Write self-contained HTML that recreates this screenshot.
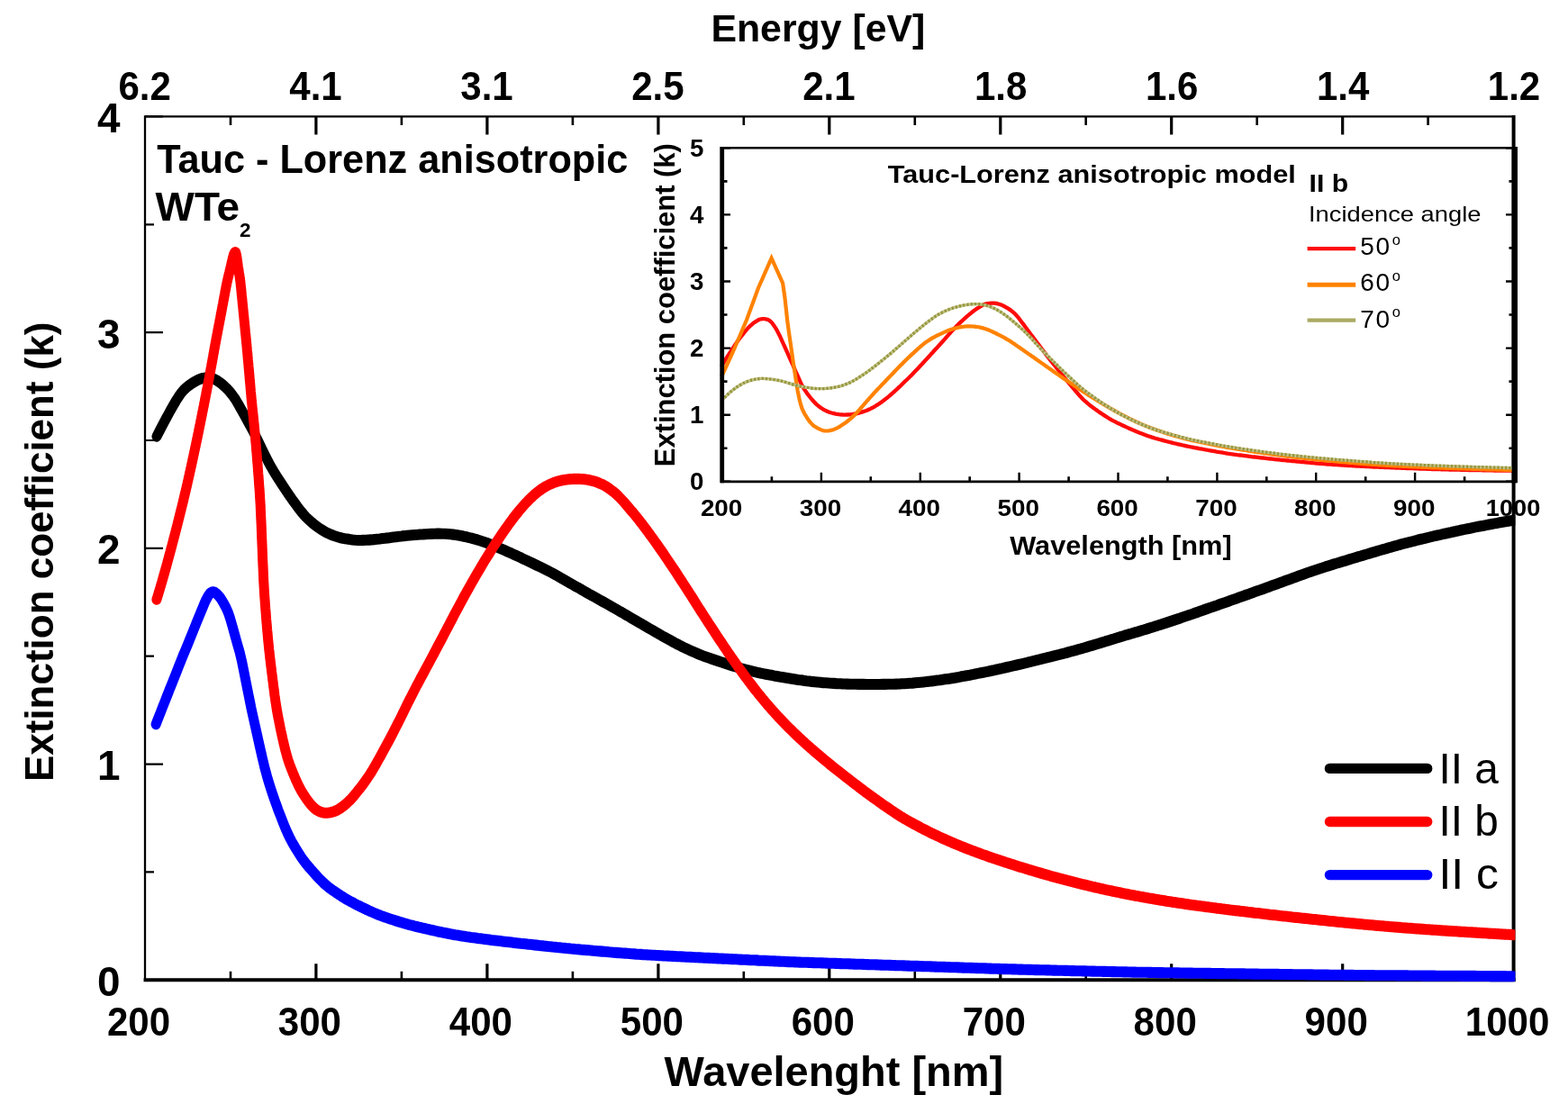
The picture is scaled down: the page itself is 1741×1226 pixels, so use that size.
<!DOCTYPE html>
<html lang="en"><head><meta charset="utf-8"><title>Extinction coefficient</title>
<style>html,body{margin:0;padding:0;background:#fff}svg{display:block}text{font-family:"Liberation Sans",Arial,sans-serif;fill:#000}.b{font-weight:bold}</style></head><body>
<svg width="1741" height="1226" viewBox="0 0 1741 1226">
<rect width="1741" height="1226" fill="#fff"/>
<path d="M350.9 1088.3 v-18 M350.9 129.4 v20 M540.9 1088.3 v-18 M540.9 129.4 v20 M730.9 1088.3 v-18 M730.9 129.4 v20 M920.8 1088.3 v-18 M920.8 129.4 v20 M1110.8 1088.3 v-18 M1110.8 129.4 v20 M1300.7 1088.3 v-18 M1300.7 129.4 v20 M1490.7 1088.3 v-18 M1490.7 129.4 v20" stroke="#000" stroke-width="3.2" fill="none"/>
<path d="M256.0 1088.3 v-9.5 M256.0 129.4 v9.5 M445.9 1088.3 v-9.5 M445.9 129.4 v9.5 M635.9 1088.3 v-9.5 M635.9 129.4 v9.5 M825.8 1088.3 v-9.5 M825.8 129.4 v9.5 M1015.8 1088.3 v-9.5 M1015.8 129.4 v9.5 M1205.7 1088.3 v-9.5 M1205.7 129.4 v9.5 M1395.7 1088.3 v-9.5 M1395.7 129.4 v9.5 M1585.6 1088.3 v-9.5 M1585.6 129.4 v9.5" stroke="#000" stroke-width="2.6" fill="none"/>
<path d="M161.0 1088.3 h20 M161.0 848.6 h20 M161.0 608.8 h20 M161.0 369.1 h20 M161.0 129.4 h20 M161.0 968.4 h10 M161.0 728.7 h10 M161.0 489.0 h10 M161.0 249.3 h10" stroke="#000" stroke-width="2.2" fill="none"/>
<path d="M161.0 129.4 H1680.6" stroke="#000" stroke-width="2.3" fill="none"/>
<path d="M161.0 128.3 V1090.1" stroke="#000" stroke-width="2.3" fill="none"/>
<path d="M159.6 1088.3 H1682.6" stroke="#000" stroke-width="4" fill="none"/>
<path d="M1680.6 128.1 V1090.1" stroke="#000" stroke-width="4" fill="none"/>
<clipPath id="mc"><rect x="150" y="100" width="1532.4" height="1000"/></clipPath>
<g clip-path="url(#mc)"><g transform="scale(1 1.1)" fill="none" stroke-width="11" stroke-linejoin="round" stroke-linecap="round">
<path d="M174.0 440.55 L177.0 435.18 L180.0 429.91 L183.1 424.73 L184.5 422.27 L186.1 419.64 L189.1 414.55 L192.1 409.73 L195.1 405.09 L198.2 400.73 L199.0 399.55 L201.2 396.73 L204.2 393.55 L207.2 391.00 L210.2 388.91 L213.2 387.00 L215.0 386.00 L216.3 385.27 L219.3 383.73 L222.3 382.55 L225.3 381.73 L228.3 381.27 L229.0 381.27 L231.4 381.27 L234.4 381.73 L237.4 382.64 L240.4 383.91 L243.4 385.64 L246.5 387.73 L246.7 387.91 L249.5 390.18 L252.5 392.82 L255.5 395.91 L258.5 399.45 L261.6 403.45 L263.3 406.09 L264.6 408.09 L267.6 412.91 L270.6 417.82 L273.6 422.82 L276.6 427.91 L279.7 433.00 L282.7 438.27 L283.3 439.36 L285.7 443.64 L288.7 449.27 L291.7 455.00 L294.8 460.55 L297.8 466.00 L300.0 469.73 L300.8 471.00 L303.8 475.73 L306.8 480.18 L309.9 484.55 L312.9 488.73 L315.9 492.82 L316.7 493.91 L318.9 496.91 L321.9 501.00 L325.0 504.91 L328.0 508.73 L331.0 512.45 L333.3 515.18 L334.0 516.00 L337.0 519.27 L340.0 522.27 L343.1 524.91 L346.1 527.36 L349.1 529.64 L350.0 530.27 L352.1 531.73 L355.1 533.64 L358.2 535.36 L361.2 537.00 L364.2 538.36 L366.7 539.36 L367.2 539.55 L370.2 540.64 L373.3 541.55 L376.3 542.45 L379.3 543.18 L382.3 543.73 L383.3 543.91 L385.3 544.18 L388.4 544.64 L391.4 545.00 L394.4 545.27 L397.4 545.45 L400.0 545.45 L400.4 545.45 L403.4 545.36 L406.5 545.27 L409.5 545.09 L412.5 544.91 L415.5 544.64 L416.7 544.55 L418.5 544.36 L421.6 544.09 L424.6 543.73 L427.6 543.36 L430.6 543.09 L433.6 542.73 L436.7 542.36 L439.7 542.00 L442.7 541.64 L445.7 541.36 L448.7 541.00 L450.0 540.91 L451.8 540.73 L454.8 540.45 L457.8 540.18 L460.8 540.00 L463.8 539.82 L466.8 539.55 L469.9 539.45 L472.9 539.27 L475.9 539.09 L478.9 539.00 L481.9 538.91 L483.3 538.82 L485.0 538.73 L488.0 538.73 L491.0 538.82 L494.0 538.91 L497.0 539.09 L500.1 539.36 L503.1 539.64 L506.1 540.00 L509.1 540.45 L512.1 540.91 L515.2 541.55 L516.7 541.82 L518.2 542.09 L521.2 542.82 L524.2 543.45 L527.2 544.27 L530.2 545.00 L533.3 545.91 L536.3 546.82 L539.3 547.73 L542.3 548.73 L545.3 549.82 L548.4 550.91 L550.0 551.55 L551.4 552.09 L554.4 553.27 L557.4 554.45 L560.4 555.64 L563.5 556.91 L566.5 558.09 L569.5 559.36 L572.5 560.55 L575.5 561.82 L578.6 563.09 L581.6 564.45 L583.3 565.18 L584.6 565.73 L587.6 567.09 L590.6 568.36 L593.6 569.64 L596.7 571.00 L599.7 572.27 L602.7 573.64 L605.7 575.00 L608.7 576.36 L611.8 577.82 L614.8 579.27 L616.7 580.27 L617.8 580.82 L620.8 582.36 L623.8 583.91 L626.9 585.55 L629.9 587.09 L632.9 588.64 L635.9 590.27 L638.9 591.82 L642.0 593.36 L645.0 594.91 L648.0 596.55 L650.0 597.55 L651.0 598.09 L654.0 599.64 L657.0 601.09 L660.1 602.64 L663.1 604.18 L666.1 605.73 L669.1 607.27 L672.1 608.82 L675.2 610.36 L678.2 611.91 L681.2 613.45 L683.3 614.55 L684.2 615.00 L687.2 616.64 L690.3 618.18 L693.3 619.82 L696.3 621.36 L699.3 623.00 L702.3 624.55 L705.4 626.18 L708.4 627.82 L711.4 629.36 L714.4 631.00 L716.0 631.82 L717.4 632.55 L720.4 634.18 L723.5 635.73 L726.5 637.36 L729.5 638.91 L732.5 640.55 L733.3 640.91 L735.5 642.09 L738.6 643.64 L741.6 645.18 L744.6 646.64 L747.6 648.18 L750.6 649.64 L753.7 651.00 L756.7 652.45 L759.7 653.82 L762.7 655.09 L765.7 656.45 L766.7 656.82 L768.8 657.64 L771.8 658.82 L774.8 660.00 L777.8 661.09 L780.8 662.18 L783.8 663.18 L786.9 664.18 L789.9 665.09 L792.9 666.00 L795.9 666.91 L798.9 667.82 L800.0 668.18 L802.0 668.73 L805.0 669.64 L808.0 670.55 L811.0 671.45 L814.0 672.36 L817.1 673.18 L820.1 674.00 L823.1 674.82 L826.1 675.55 L829.1 676.36 L832.2 677.00 L833.3 677.27 L835.2 677.64 L838.2 678.27 L841.2 678.91 L844.2 679.55 L847.2 680.09 L850.3 680.64 L853.3 681.18 L856.3 681.64 L859.3 682.18 L862.3 682.64 L865.4 683.18 L866.7 683.36 L868.4 683.64 L871.4 684.09 L874.4 684.55 L877.4 685.00 L880.5 685.45 L883.5 685.82 L886.5 686.27 L889.5 686.64 L892.5 687.09 L895.6 687.45 L898.6 687.73 L900.0 687.91 L901.6 688.09 L904.6 688.36 L907.6 688.64 L910.6 688.91 L913.7 689.18 L916.7 689.36 L919.7 689.55 L922.7 689.73 L925.7 689.91 L928.8 690.09 L931.8 690.18 L933.3 690.27 L934.8 690.36 L937.8 690.45 L940.8 690.55 L943.9 690.64 L946.9 690.64 L949.9 690.73 L952.9 690.82 L955.9 690.82 L958.9 690.82 L962.0 690.91 L965.0 690.91 L966.7 690.91 L968.0 690.91 L971.0 690.91 L974.0 690.91 L977.1 690.91 L980.1 690.82 L983.1 690.82 L986.1 690.73 L989.1 690.73 L992.2 690.64 L995.2 690.55 L998.2 690.45 L1000.0 690.36 L1001.2 690.27 L1004.2 690.18 L1007.3 690.00 L1010.3 689.82 L1013.3 689.64 L1016.3 689.36 L1019.3 689.09 L1022.3 688.82 L1025.4 688.55 L1028.4 688.27 L1031.4 687.91 L1033.3 687.73 L1034.4 687.64 L1037.4 687.27 L1040.5 686.91 L1043.5 686.55 L1046.5 686.09 L1049.5 685.73 L1052.5 685.36 L1055.6 684.91 L1058.6 684.45 L1061.6 684.00 L1064.6 683.55 L1066.7 683.18 L1067.6 683.00 L1070.7 682.55 L1073.7 682.00 L1076.7 681.55 L1079.7 681.00 L1082.7 680.45 L1085.7 679.91 L1088.8 679.36 L1091.8 678.82 L1094.8 678.27 L1097.8 677.73 L1100.0 677.27 L1100.8 677.09 L1103.9 676.55 L1106.9 675.91 L1109.9 675.27 L1112.9 674.73 L1115.9 674.09 L1119.0 673.45 L1122.0 672.82 L1125.0 672.18 L1128.0 671.55 L1131.0 670.91 L1133.3 670.45 L1134.1 670.27 L1137.1 669.64 L1140.1 669.00 L1143.1 668.27 L1146.1 667.64 L1149.1 667.00 L1152.2 666.27 L1155.2 665.64 L1158.2 664.91 L1161.2 664.27 L1164.2 663.55 L1166.7 663.00 L1167.3 662.91 L1170.3 662.18 L1173.3 661.45 L1176.3 660.82 L1179.3 660.09 L1182.4 659.36 L1185.4 658.64 L1188.4 657.91 L1191.4 657.18 L1194.4 656.45 L1197.5 655.64 L1200.0 655.00 L1200.5 654.91 L1203.5 654.09 L1206.5 653.27 L1209.5 652.45 L1212.5 651.64 L1215.6 650.82 L1218.6 650.00 L1221.6 649.18 L1224.6 648.36 L1227.6 647.45 L1230.7 646.64 L1233.3 645.91 L1233.7 645.82 L1236.7 645.00 L1239.7 644.09 L1242.7 643.27 L1245.8 642.45 L1248.8 641.55 L1251.8 640.73 L1254.8 640.00 L1257.8 639.18 L1260.9 638.36 L1262.2 638.00 L1263.9 637.55 L1266.9 636.73 L1269.9 635.91 L1272.9 635.09 L1275.9 634.18 L1279.0 633.36 L1282.0 632.45 L1285.0 631.64 L1288.0 630.73 L1291.0 629.91 L1294.1 629.00 L1297.1 628.09 L1300.1 627.18 L1303.1 626.27 L1306.1 625.36 L1309.2 624.45 L1312.2 623.45 L1315.2 622.55 L1318.2 621.64 L1321.2 620.64 L1324.3 619.73 L1324.3 619.73 L1327.3 618.73 L1330.3 617.82 L1333.3 616.82 L1336.3 615.82 L1339.3 614.91 L1342.4 613.91 L1345.4 613.00 L1348.4 612.00 L1351.4 611.09 L1354.4 610.09 L1357.5 609.09 L1360.5 608.18 L1363.5 607.18 L1366.5 606.18 L1369.5 605.27 L1372.6 604.27 L1375.6 603.27 L1378.6 602.27 L1381.6 601.27 L1384.6 600.36 L1386.5 599.73 L1387.7 599.36 L1390.7 598.36 L1393.7 597.36 L1396.7 596.36 L1399.7 595.45 L1402.7 594.45 L1405.8 593.45 L1408.8 592.45 L1411.8 591.45 L1414.8 590.45 L1417.8 589.45 L1420.9 588.45 L1423.9 587.45 L1426.9 586.45 L1429.9 585.45 L1432.9 584.45 L1436.0 583.45 L1439.0 582.45 L1442.0 581.45 L1445.0 580.45 L1448.0 579.45 L1448.6 579.27 L1451.1 578.45 L1454.1 577.55 L1457.1 576.55 L1460.1 575.64 L1463.1 574.73 L1466.1 573.82 L1469.2 572.91 L1472.2 572.00 L1475.2 571.18 L1478.2 570.36 L1481.2 569.45 L1484.3 568.64 L1487.3 567.82 L1490.3 567.00 L1493.3 566.18 L1496.3 565.36 L1499.4 564.45 L1502.4 563.64 L1505.4 562.82 L1508.4 562.00 L1510.8 561.36 L1511.4 561.18 L1514.5 560.36 L1517.5 559.55 L1520.5 558.73 L1523.5 557.91 L1526.5 557.09 L1529.5 556.27 L1532.6 555.45 L1535.6 554.64 L1538.6 553.91 L1541.6 553.09 L1544.6 552.36 L1547.7 551.55 L1550.7 550.82 L1553.7 550.00 L1556.7 549.27 L1559.7 548.55 L1562.8 547.82 L1565.8 547.09 L1568.8 546.45 L1571.8 545.73 L1572.9 545.45 L1574.8 545.00 L1577.9 544.36 L1580.9 543.73 L1583.9 543.00 L1586.9 542.36 L1589.9 541.73 L1592.9 541.09 L1596.0 540.45 L1599.0 539.91 L1602.0 539.27 L1605.0 538.64 L1608.0 538.00 L1611.1 537.45 L1614.1 536.82 L1617.1 536.18 L1620.1 535.64 L1623.1 535.00 L1626.2 534.45 L1629.2 533.91 L1632.2 533.36 L1635.1 532.82 L1635.2 532.73 L1638.2 532.18 L1641.3 531.64 L1644.3 531.09 L1647.3 530.64 L1650.3 530.09 L1653.3 529.55 L1656.3 529.09 L1659.4 528.55 L1662.4 528.09 L1665.4 527.55 L1668.4 527.09 L1671.4 526.64 L1674.5 526.18 L1677.5 525.73 L1680.5 525.27" stroke="#000"/>
<path d="M173.9 605.27 L174.2 604.27 L174.6 603.27 L174.9 602.27 L175.2 601.27 L175.6 600.27 L175.9 599.27 L176.2 598.27 L176.6 597.27 L176.9 596.27 L177.2 595.27 L177.6 594.18 L177.9 593.18 L178.2 592.18 L178.6 591.18 L178.9 590.09 L179.2 589.09 L179.6 588.00 L179.9 587.00 L180.2 585.91 L180.6 584.91 L180.9 583.82 L181.2 582.82 L181.6 581.73 L181.9 580.64 L182.2 579.64 L182.6 578.55 L182.9 577.45 L183.2 576.36 L183.6 575.27 L183.9 574.18 L184.2 573.18 L184.6 572.09 L184.9 571.00 L185.2 569.91 L185.6 568.73 L185.9 567.64 L186.2 566.55 L186.5 565.45 L186.9 564.36 L187.2 563.27 L187.5 562.09 L187.9 561.00 L188.2 559.91 L188.5 558.82 L188.9 557.64 L189.2 556.55 L189.5 555.36 L189.9 554.27 L190.2 553.09 L190.5 552.00 L190.9 550.82 L191.2 549.73 L191.5 548.55 L191.9 547.36 L192.2 546.27 L192.5 545.09 L192.9 543.91 L193.2 542.82 L193.3 542.45 L193.5 541.64 L193.9 540.45 L194.2 539.27 L194.5 538.09 L194.9 536.91 L195.2 535.73 L195.5 534.64 L195.9 533.45 L196.2 532.27 L196.5 531.09 L196.9 529.82 L197.2 528.64 L197.5 527.45 L197.9 526.27 L198.2 525.09 L198.5 523.91 L198.9 522.64 L199.2 521.45 L199.5 520.27 L199.9 519.00 L200.2 517.82 L200.5 516.64 L200.9 515.36 L201.2 514.18 L201.5 512.91 L201.9 511.64 L202.2 510.45 L202.5 509.18 L202.9 507.91 L203.2 506.73 L203.5 505.45 L203.9 504.18 L204.2 502.91 L204.5 501.64 L204.9 500.36 L205.2 499.09 L205.5 497.82 L205.9 496.55 L206.2 495.27 L206.5 494.00 L206.9 492.64 L207.2 491.36 L207.5 490.09 L207.9 488.73 L208.2 487.45 L208.5 486.09 L208.9 484.82 L209.2 483.45 L209.5 482.18 L209.8 480.82 L210.2 479.45 L210.5 478.09 L210.8 476.73 L211.2 475.36 L211.5 474.00 L211.8 472.64 L212.2 471.27 L212.5 469.91 L212.8 468.55 L213.2 467.18 L213.3 466.64 L213.5 465.73 L213.8 464.36 L214.2 462.91 L214.5 461.55 L214.8 460.09 L215.2 458.73 L215.5 457.27 L215.8 455.91 L216.2 454.45 L216.5 453.00 L216.8 451.64 L217.2 450.18 L217.5 448.73 L217.8 447.27 L218.2 445.82 L218.5 444.36 L218.8 442.91 L219.2 441.45 L219.5 440.00 L219.8 438.55 L220.2 437.09 L220.5 435.64 L220.8 434.09 L221.2 432.64 L221.5 431.18 L221.8 429.64 L222.2 428.18 L222.5 426.64 L222.8 425.18 L223.2 423.64 L223.5 422.18 L223.8 420.64 L224.2 419.18 L224.5 417.64 L224.8 416.09 L225.2 414.55 L225.5 413.09 L225.8 411.55 L226.2 410.00 L226.5 408.45 L226.8 406.91 L227.2 405.36 L227.5 403.82 L227.8 402.27 L228.2 400.64 L228.3 400.00 L228.5 399.09 L228.8 397.55 L229.2 396.00 L229.5 394.36 L229.8 392.82 L230.2 391.27 L230.5 389.64 L230.8 388.09 L231.2 386.55 L231.5 384.91 L231.8 383.36 L232.2 381.73 L232.5 380.09 L232.8 378.55 L233.2 376.91 L233.5 375.27 L233.8 373.64 L234.1 372.00 L234.5 370.36 L234.6 369.82 L234.8 368.73 L235.1 367.09 L235.5 365.45 L235.8 363.73 L236.1 362.09 L236.5 360.36 L236.8 358.64 L237.1 357.00 L237.5 355.27 L237.8 353.64 L238.1 351.91 L238.5 350.18 L238.8 348.55 L239.1 346.91 L239.5 345.27 L239.8 343.64 L239.9 343.18 L240.1 342.00 L240.5 340.45 L240.8 338.82 L241.1 337.18 L241.5 335.64 L241.8 334.00 L242.1 332.45 L242.5 330.91 L242.8 329.27 L243.1 327.73 L243.5 326.09 L243.8 324.55 L244.1 323.00 L244.5 321.36 L244.8 319.82 L245.1 318.18 L245.5 316.64 L245.5 316.45 L245.8 315.00 L246.1 313.45 L246.5 311.82 L246.8 310.18 L247.1 308.55 L247.5 306.91 L247.8 305.27 L248.1 303.64 L248.5 302.09 L248.8 300.45 L249.1 298.82 L249.5 297.18 L249.8 295.55 L250.1 293.91 L250.5 292.36 L250.8 290.73 L251.0 289.73 L251.1 289.09 L251.5 287.64 L251.8 286.09 L252.1 284.73 L252.5 283.36 L252.8 282.00 L253.1 280.73 L253.5 279.45 L253.8 278.18 L254.1 277.00 L254.5 275.73 L254.8 274.55 L255.1 273.27 L255.5 272.09 L255.8 270.82 L256.0 270.00 L256.1 269.55 L256.5 268.27 L256.8 266.91 L257.1 265.55 L257.4 264.27 L257.8 262.91 L258.1 261.64 L258.4 260.45 L258.8 259.36 L259.1 258.27 L259.4 257.27 L259.8 256.45 L260.1 255.73 L260.4 255.18 L260.8 254.82 L261.1 254.55 L261.3 254.55 L261.4 254.64 L261.8 255.09 L262.1 256.09 L262.4 257.45 L262.8 259.09 L263.1 261.00 L263.4 263.09 L263.8 265.27 L264.1 267.45 L264.4 269.64 L264.5 270.00 L264.8 271.64 L265.1 273.55 L265.4 275.45 L265.8 277.36 L266.1 279.36 L266.4 281.45 L266.8 283.73 L267.1 286.27 L267.4 289.18 L267.5 289.73 L267.8 292.18 L268.1 295.27 L268.4 298.36 L268.8 301.36 L269.1 304.45 L269.4 307.55 L269.8 310.64 L270.1 313.64 L270.4 316.45 L270.4 316.73 L270.8 319.82 L271.1 322.91 L271.4 325.91 L271.8 329.00 L272.1 332.09 L272.4 335.18 L272.8 338.18 L273.1 341.27 L273.3 343.18 L273.4 344.36 L273.8 347.55 L274.1 350.73 L274.4 354.00 L274.8 357.27 L275.1 360.64 L275.4 364.00 L275.8 367.36 L276.0 369.82 L276.1 370.73 L276.4 374.09 L276.8 377.55 L277.1 381.09 L277.4 384.55 L277.8 388.09 L278.1 391.64 L278.4 395.09 L278.8 398.55 L278.9 400.00 L279.1 401.82 L279.4 405.00 L279.8 408.00 L280.1 410.91 L280.4 413.73 L280.7 416.55 L281.1 419.27 L281.4 422.09 L281.7 425.00 L282.0 427.27 L282.1 428.00 L282.4 431.09 L282.7 434.27 L283.1 437.55 L283.4 440.91 L283.7 444.27 L284.1 447.73 L284.4 451.27 L284.7 454.91 L285.1 458.55 L285.4 462.27 L285.7 466.00 L286.1 469.91 L286.4 473.82 L286.7 477.73 L287.1 481.73 L287.4 485.82 L287.7 489.91 L288.1 494.09 L288.3 497.00 L288.4 498.36 L288.7 503.27 L289.1 508.82 L289.4 515.00 L289.7 521.64 L290.1 528.64 L290.4 536.00 L290.7 543.45 L291.1 551.00 L291.4 558.55 L291.7 566.00 L292.1 573.09 L292.4 579.91 L292.7 586.27 L293.1 592.09 L293.4 597.27 L293.6 600.00 L293.7 601.73 L294.1 605.91 L294.4 610.09 L294.7 614.09 L295.1 618.09 L295.4 621.91 L295.7 625.73 L296.1 629.36 L296.4 633.00 L296.7 636.45 L297.1 639.82 L297.4 643.18 L297.7 646.36 L298.1 649.55 L298.4 652.55 L298.7 655.45 L299.1 658.36 L299.4 661.09 L299.7 663.73 L300.1 666.36 L300.3 668.18 L300.4 668.82 L300.7 671.27 L301.1 673.82 L301.4 676.27 L301.7 678.73 L302.1 681.18 L302.4 683.64 L302.7 686.09 L303.1 688.45 L303.4 690.82 L303.7 693.18 L304.1 695.55 L304.4 697.82 L304.7 700.09 L305.0 702.36 L305.4 704.55 L305.7 706.64 L306.0 708.73 L306.4 710.82 L306.7 712.73 L307.0 714.64 L307.4 716.55 L307.7 718.27 L308.0 720.00 L308.4 721.64 L308.6 722.73 L308.7 723.27 L309.0 724.82 L309.4 726.36 L309.7 727.82 L310.0 729.36 L310.4 730.91 L310.7 732.36 L311.0 733.82 L311.4 735.36 L311.7 736.82 L312.0 738.27 L312.4 739.64 L312.7 741.09 L313.0 742.45 L313.4 743.91 L313.7 745.27 L314.0 746.64 L314.4 747.91 L314.7 749.27 L315.0 750.55 L315.4 751.82 L315.7 753.09 L316.0 754.36 L316.4 755.55 L316.7 756.82 L317.0 758.00 L317.4 759.09 L317.7 760.27 L318.0 761.36 L318.4 762.45 L318.7 763.55 L319.0 764.64 L319.4 765.64 L319.7 766.64 L320.0 767.55 L320.4 768.55 L320.7 769.45 L321.0 770.27 L321.4 771.18 L321.7 772.00 L322.0 772.73 L322.0 772.82 L322.4 773.55 L322.7 774.36 L323.0 775.09 L323.4 775.91 L323.7 776.64 L324.0 777.45 L324.4 778.18 L324.7 778.91 L325.0 779.73 L325.4 780.45 L325.7 781.18 L326.0 781.91 L326.4 782.64 L326.7 783.36 L327.0 784.09 L327.4 784.82 L327.7 785.45 L328.0 786.18 L328.3 786.91 L328.7 787.55 L329.0 788.27 L329.3 788.91 L329.7 789.55 L330.0 790.27 L330.3 790.91 L330.7 791.55 L331.0 792.18 L331.3 792.82 L331.7 793.36 L332.0 794.00 L332.3 794.64 L332.7 795.18 L333.0 795.73 L333.3 796.36 L333.7 796.91 L334.0 797.45 L334.3 798.00 L334.7 798.55 L335.0 799.09 L335.3 799.55 L335.7 800.09 L336.0 800.55 L336.3 801.00 L336.7 801.55 L336.7 801.55 L337.0 802.00 L337.3 802.45 L337.7 802.91 L338.0 803.36 L338.3 803.82 L338.7 804.27 L339.0 804.73 L339.3 805.18 L339.7 805.64 L340.0 806.09 L341.9 808.55 L343.8 810.82 L345.8 812.91 L347.7 814.82 L349.6 816.36 L350.0 816.64 L351.5 817.64 L353.4 818.64 L355.3 819.45 L357.3 820.09 L359.2 820.45 L361.1 820.64 L361.7 820.64 L363.0 820.64 L364.9 820.45 L366.8 820.18 L368.8 819.82 L370.7 819.27 L372.6 818.64 L374.5 817.82 L376.4 816.82 L376.7 816.64 L378.4 815.64 L380.3 814.36 L382.2 813.09 L384.1 811.64 L386.0 810.00 L387.9 808.36 L389.9 806.55 L391.8 804.64 L393.3 803.00 L393.7 802.55 L395.6 800.45 L397.5 798.27 L399.4 796.09 L401.4 793.82 L403.3 791.45 L405.2 789.09 L407.1 786.64 L409.0 784.09 L411.0 781.36 L412.9 778.64 L414.8 775.73 L416.7 772.73 L416.7 772.73 L418.6 769.64 L420.5 766.55 L422.5 763.36 L424.4 760.18 L426.3 757.00 L428.2 753.82 L430.1 750.55 L432.1 747.27 L434.0 744.00 L435.9 740.64 L437.8 737.27 L439.7 733.82 L440.0 733.36 L441.6 730.45 L443.6 726.91 L445.5 723.45 L447.4 719.91 L449.3 716.36 L451.2 712.82 L453.1 709.27 L455.1 705.82 L457.0 702.36 L458.9 698.91 L460.8 695.55 L462.7 692.18 L464.7 688.91 L466.6 685.64 L466.7 685.36 L468.5 682.36 L470.4 679.18 L472.3 675.91 L474.2 672.73 L476.2 669.45 L478.1 666.18 L480.0 662.91 L481.9 659.64 L483.8 656.36 L485.7 653.09 L487.7 649.73 L489.6 646.45 L491.5 643.09 L493.4 639.73 L495.0 637.00 L495.3 636.45 L497.3 633.09 L499.2 629.73 L501.1 626.45 L503.0 623.09 L504.9 619.82 L506.8 616.55 L508.8 613.27 L510.7 610.00 L512.6 606.82 L514.5 603.55 L516.4 600.36 L516.7 600.00 L518.3 597.27 L520.3 594.09 L522.2 591.00 L524.1 587.91 L526.0 584.91 L527.9 581.82 L529.9 578.82 L531.8 575.91 L533.7 572.91 L535.6 570.00 L537.5 567.09 L539.4 564.27 L541.4 561.45 L543.3 558.64 L545.2 555.82 L547.1 553.09 L549.0 550.36 L551.0 547.73 L552.9 545.09 L554.8 542.45 L556.7 539.91 L558.6 537.36 L560.5 534.82 L562.5 532.36 L564.4 529.91 L566.3 527.55 L568.2 525.18 L570.1 522.82 L572.0 520.55 L574.0 518.36 L575.9 516.18 L577.8 514.09 L579.7 512.09 L581.6 510.09 L583.6 508.18 L585.5 506.27 L587.4 504.55 L589.3 502.82 L591.2 501.18 L593.1 499.55 L595.1 498.09 L597.0 496.64 L598.9 495.27 L600.8 494.09 L602.7 492.91 L604.6 491.82 L606.6 490.82 L608.5 489.91 L610.4 489.00 L612.3 488.27 L614.2 487.55 L616.2 486.91 L618.1 486.27 L620.0 485.82 L621.9 485.36 L623.8 484.91 L625.7 484.64 L627.7 484.27 L629.6 484.09 L631.5 483.91 L633.4 483.73 L635.3 483.64 L637.2 483.55 L639.2 483.55 L641.1 483.55 L643.0 483.55 L644.9 483.64 L646.8 483.73 L648.8 483.91 L650.7 484.18 L652.6 484.36 L654.5 484.73 L656.4 485.09 L658.3 485.55 L660.3 486.00 L662.2 486.64 L664.1 487.27 L666.0 488.00 L667.9 488.73 L669.9 489.64 L671.8 490.55 L673.7 491.64 L675.6 492.73 L677.5 493.91 L679.4 495.27 L681.4 496.64 L683.3 498.09 L685.2 499.73 L687.1 501.36 L689.0 503.18 L690.9 505.00 L692.9 506.91 L694.8 508.91 L696.7 511.00 L698.6 513.09 L700.5 515.18 L702.5 517.18 L704.4 519.27 L706.3 521.36 L708.2 523.55 L710.1 525.73 L712.0 528.00 L714.0 530.27 L715.9 532.55 L717.8 534.91 L719.7 537.27 L721.6 539.64 L723.5 542.00 L725.5 544.45 L727.4 546.91 L729.3 549.36 L731.2 551.82 L733.1 554.36 L735.1 556.91 L737.0 559.36 L738.9 562.00 L740.8 564.55 L742.7 567.09 L744.6 569.73 L746.6 572.36 L748.5 574.91 L750.4 577.55 L752.3 580.27 L754.2 582.91 L756.1 585.55 L758.1 588.27 L760.0 591.00 L761.9 593.64 L763.8 596.36 L765.7 599.09 L767.7 601.82 L769.6 604.55 L771.5 607.36 L773.4 610.09 L775.3 612.82 L777.2 615.55 L779.2 618.27 L781.1 621.00 L783.0 623.73 L784.9 626.36 L786.8 629.09 L788.8 631.82 L790.7 634.45 L792.6 637.09 L794.5 639.82 L796.4 642.45 L798.3 645.09 L800.3 647.64 L802.2 650.27 L804.1 652.91 L806.0 655.45 L807.9 658.00 L809.8 660.55 L811.8 663.09 L813.7 665.55 L815.6 668.09 L817.5 670.55 L819.4 673.00 L821.4 675.45 L823.3 677.82 L825.2 680.27 L827.1 682.64 L829.0 684.91 L830.9 687.27 L832.9 689.55 L834.8 691.82 L836.7 694.09 L838.6 696.36 L840.5 698.55 L842.4 700.73 L844.4 702.91 L846.3 705.00 L848.2 707.18 L850.1 709.18 L852.0 711.27 L854.0 713.27 L855.9 715.27 L857.8 717.27 L859.7 719.18 L861.6 721.09 L863.5 723.00 L865.5 724.91 L867.4 726.73 L869.3 728.55 L871.2 730.36 L873.1 732.18 L875.0 733.91 L877.0 735.64 L878.9 737.36 L880.8 739.09 L882.7 740.73 L884.6 742.45 L886.6 744.09 L888.5 745.73 L890.4 747.27 L892.3 748.91 L894.2 750.45 L896.1 752.09 L898.1 753.64 L900.0 755.18 L901.9 756.64 L903.8 758.18 L905.7 759.73 L907.7 761.18 L909.6 762.64 L911.5 764.09 L913.4 765.55 L915.3 767.00 L917.2 768.45 L919.2 769.91 L921.1 771.36 L923.0 772.73 L924.9 774.18 L926.8 775.55 L928.7 776.91 L930.7 778.36 L932.6 779.73 L934.5 781.09 L936.4 782.45 L938.3 783.82 L940.3 785.18 L942.2 786.55 L944.1 787.91 L946.0 789.27 L947.9 790.55 L949.8 791.91 L951.8 793.27 L953.7 794.55 L955.6 795.91 L957.5 797.18 L959.4 798.45 L961.3 799.82 L963.3 801.09 L965.2 802.36 L967.1 803.64 L969.0 804.91 L970.9 806.18 L972.9 807.36 L974.8 808.64 L976.7 809.91 L978.6 811.09 L980.5 812.36 L982.4 813.55 L984.4 814.73 L986.3 815.91 L988.2 817.09 L990.1 818.27 L992.0 819.45 L993.9 820.64 L995.9 821.82 L997.8 822.91 L999.7 824.09 L1001.6 825.09 L1003.5 826.18 L1005.5 827.18 L1007.4 828.18 L1009.3 829.18 L1011.2 830.09 L1013.1 831.09 L1015.0 832.09 L1017.0 833.00 L1018.9 833.91 L1020.8 834.82 L1022.7 835.82 L1024.6 836.73 L1026.6 837.55 L1028.5 838.45 L1030.4 839.36 L1032.3 840.18 L1034.2 841.09 L1036.1 841.91 L1038.1 842.73 L1040.0 843.55 L1041.9 844.36 L1043.8 845.18 L1045.7 846.00 L1047.6 846.82 L1049.6 847.55 L1051.5 848.36 L1053.4 849.09 L1055.3 849.82 L1057.2 850.64 L1059.2 851.36 L1061.1 852.09 L1063.0 852.82 L1064.9 853.55 L1066.8 854.27 L1068.7 854.91 L1070.7 855.64 L1072.6 856.36 L1074.5 857.00 L1076.4 857.64 L1078.3 858.36 L1080.2 859.00 L1082.2 859.64 L1084.1 860.36 L1086.0 861.00 L1087.9 861.64 L1089.8 862.27 L1091.8 862.91 L1093.7 863.45 L1095.6 864.09 L1097.5 864.73 L1099.4 865.36 L1101.3 865.91 L1103.3 866.55 L1105.2 867.09 L1107.1 867.73 L1109.0 868.27 L1110.9 868.91 L1112.8 869.45 L1114.8 870.00 L1116.7 870.64 L1118.6 871.18 L1120.5 871.73 L1122.4 872.27 L1124.4 872.82 L1126.3 873.45 L1128.2 874.00 L1130.1 874.55 L1132.0 875.09 L1133.9 875.64 L1135.9 876.09 L1137.8 876.64 L1139.7 877.18 L1141.6 877.73 L1143.5 878.27 L1145.5 878.82 L1147.4 879.27 L1149.3 879.82 L1151.2 880.36 L1153.1 880.82 L1155.0 881.36 L1157.0 881.82 L1158.9 882.36 L1160.8 882.82 L1162.7 883.36 L1164.6 883.82 L1166.5 884.36 L1168.5 884.82 L1170.4 885.27 L1172.3 885.73 L1174.2 886.27 L1176.1 886.73 L1178.1 887.18 L1180.0 887.64 L1181.9 888.09 L1183.8 888.55 L1185.7 889.00 L1187.6 889.45 L1189.6 889.91 L1191.5 890.36 L1193.4 890.82 L1195.3 891.27 L1197.2 891.73 L1199.1 892.09 L1201.1 892.55 L1203.0 893.00 L1204.9 893.36 L1206.8 893.82 L1208.7 894.27 L1210.7 894.64 L1212.6 895.09 L1214.5 895.45 L1216.4 895.91 L1218.3 896.27 L1220.2 896.64 L1222.2 897.09 L1224.1 897.45 L1226.0 897.82 L1227.9 898.27 L1229.8 898.64 L1231.7 899.00 L1233.7 899.36 L1235.6 899.73 L1237.5 900.09 L1239.4 900.45 L1241.3 900.82 L1243.3 901.18 L1245.2 901.55 L1247.1 901.91 L1249.0 902.27 L1250.9 902.55 L1252.8 902.91 L1254.8 903.27 L1256.7 903.64 L1258.6 903.91 L1260.5 904.27 L1262.4 904.55 L1264.4 904.91 L1266.3 905.27 L1268.2 905.55 L1270.1 905.82 L1272.0 906.18 L1273.9 906.45 L1275.9 906.82 L1277.8 907.09 L1279.7 907.36 L1281.6 907.64 L1283.5 908.00 L1285.4 908.27 L1287.4 908.55 L1289.3 908.82 L1291.2 909.09 L1293.1 909.36 L1295.0 909.73 L1297.0 910.00 L1298.9 910.27 L1300.8 910.55 L1302.7 910.82 L1304.6 911.00 L1306.5 911.27 L1308.5 911.55 L1310.4 911.82 L1312.3 912.09 L1314.2 912.36 L1316.1 912.64 L1318.0 912.82 L1320.0 913.09 L1321.9 913.36 L1323.8 913.64 L1325.7 913.82 L1327.6 914.09 L1329.6 914.36 L1331.5 914.55 L1333.4 914.82 L1335.3 915.00 L1337.2 915.27 L1339.1 915.55 L1341.1 915.73 L1343.0 916.00 L1344.9 916.18 L1346.8 916.45 L1348.7 916.64 L1350.6 916.91 L1352.6 917.09 L1354.5 917.27 L1356.4 917.55 L1358.3 917.73 L1360.2 918.00 L1362.2 918.18 L1364.1 918.36 L1366.0 918.64 L1367.9 918.82 L1369.8 919.00 L1371.7 919.27 L1373.7 919.45 L1375.6 919.64 L1377.5 919.91 L1379.4 920.09 L1381.3 920.27 L1383.3 920.45 L1385.2 920.73 L1387.1 920.91 L1389.0 921.09 L1390.9 921.27 L1392.8 921.55 L1394.8 921.73 L1396.7 921.91 L1398.6 922.09 L1400.5 922.36 L1402.4 922.55 L1404.3 922.73 L1406.3 922.91 L1408.2 923.09 L1410.1 923.36 L1412.0 923.55 L1413.9 923.73 L1415.9 923.91 L1417.8 924.09 L1419.7 924.27 L1421.6 924.55 L1423.5 924.73 L1425.4 924.91 L1427.4 925.09 L1429.3 925.27 L1431.2 925.45 L1433.1 925.64 L1435.0 925.91 L1436.9 926.09 L1438.9 926.27 L1440.8 926.45 L1442.7 926.64 L1444.6 926.82 L1446.5 927.00 L1448.5 927.18 L1450.4 927.36 L1452.3 927.55 L1454.2 927.73 L1456.1 927.91 L1458.0 928.09 L1460.0 928.27 L1461.9 928.45 L1463.8 928.64 L1465.7 928.91 L1467.6 929.00 L1469.5 929.18 L1471.5 929.36 L1473.4 929.55 L1475.3 929.73 L1477.2 929.91 L1479.1 930.09 L1481.1 930.27 L1483.0 930.45 L1484.9 930.64 L1486.8 930.82 L1488.7 931.00 L1490.6 931.18 L1492.6 931.36 L1494.5 931.55 L1496.4 931.64 L1498.3 931.82 L1500.2 932.00 L1502.2 932.18 L1504.1 932.36 L1506.0 932.55 L1507.9 932.64 L1509.8 932.82 L1511.7 933.00 L1513.7 933.18 L1515.6 933.36 L1517.5 933.45 L1519.4 933.64 L1521.3 933.82 L1523.2 933.91 L1525.2 934.09 L1527.1 934.27 L1529.0 934.45 L1530.9 934.55 L1532.8 934.73 L1534.8 934.82 L1536.7 935.00 L1538.6 935.18 L1540.5 935.27 L1542.4 935.45 L1544.3 935.64 L1546.3 935.73 L1548.2 935.91 L1550.1 936.00 L1552.0 936.18 L1553.9 936.27 L1555.8 936.45 L1557.8 936.55 L1559.7 936.73 L1561.6 936.82 L1563.5 937.00 L1565.4 937.09 L1567.4 937.18 L1569.3 937.36 L1571.2 937.45 L1573.1 937.64 L1575.0 937.73 L1576.9 937.82 L1578.9 938.00 L1580.8 938.09 L1582.7 938.27 L1584.6 938.36 L1586.5 938.45 L1588.4 938.64 L1590.4 938.73 L1592.3 938.82 L1594.2 938.91 L1596.1 939.09 L1598.0 939.18 L1600.0 939.27 L1601.9 939.45 L1603.8 939.55 L1605.7 939.64 L1607.6 939.73 L1609.5 939.91 L1611.5 940.00 L1613.4 940.09 L1615.3 940.18 L1617.2 940.27 L1619.1 940.45 L1621.1 940.55 L1623.0 940.64 L1624.9 940.73 L1626.8 940.82 L1628.7 941.00 L1630.6 941.09 L1632.6 941.18 L1634.5 941.27 L1636.4 941.36 L1638.3 941.45 L1640.2 941.64 L1642.1 941.73 L1644.1 941.82 L1646.0 941.91 L1647.9 942.00 L1649.8 942.09 L1651.7 942.27 L1653.7 942.36 L1655.6 942.45 L1657.5 942.55 L1659.4 942.64 L1661.3 942.73 L1663.2 942.82 L1665.2 942.91 L1667.1 943.09 L1669.0 943.18 L1670.9 943.27 L1672.8 943.36 L1674.7 943.45 L1676.7 943.55 L1678.6 943.64 L1680.5 943.82" stroke="#f00"/>
<path d="M173.1 731.18 L175.6 725.36 L178.1 719.64 L180.6 713.82 L183.1 708.09 L185.6 702.27 L186.9 699.36 L188.1 696.45 L190.7 690.73 L193.2 684.91 L195.7 679.18 L198.2 673.36 L200.7 667.64 L200.8 667.45 L203.2 661.91 L205.8 656.36 L208.3 650.82 L210.8 645.27 L210.8 645.27 L213.3 639.64 L215.8 634.00 L218.3 628.27 L220.7 623.00 L220.9 622.64 L223.4 617.00 L225.9 611.55 L227.0 609.09 L228.4 606.18 L230.9 602.00 L231.8 600.73 L233.4 598.82 L236.0 597.55 L236.7 597.55 L238.5 598.09 L241.0 599.82 L241.0 599.82 L243.5 602.27 L244.8 603.82 L246.0 605.45 L248.3 608.91 L248.5 609.27 L251.1 613.73 L251.6 614.73 L253.6 619.00 L255.0 622.73 L256.1 626.00 L258.5 633.64 L258.6 634.00 L261.1 642.36 L262.0 645.27 L263.6 650.55 L266.2 658.55 L268.5 667.45 L268.7 668.27 L271.2 679.64 L273.4 689.73 L273.7 691.18 L276.2 702.55 L278.3 711.91 L278.7 713.91 L281.3 724.64 L283.8 734.91 L286.3 745.00 L286.4 745.45 L288.8 755.27 L291.3 765.18 L293.3 772.73 L293.8 774.73 L296.4 783.45 L298.9 791.18 L301.4 798.36 L303.9 805.00 L306.4 811.45 L306.7 812.09 L308.9 817.73 L311.5 823.82 L314.0 829.73 L316.5 835.36 L319.0 840.55 L321.5 845.36 L323.3 848.45 L324.0 849.73 L326.6 853.73 L329.1 857.64 L331.6 861.27 L334.1 864.82 L336.6 868.09 L339.1 871.09 L341.7 874.00 L343.3 875.73 L344.2 876.64 L346.7 879.27 L349.2 881.82 L351.7 884.36 L354.2 886.82 L356.8 889.09 L359.3 891.36 L361.8 893.45 L364.3 895.36 L366.7 897.00 L366.8 897.09 L369.3 898.73 L371.9 900.27 L374.4 901.91 L376.9 903.36 L379.4 904.91 L381.9 906.27 L384.4 907.73 L387.0 909.00 L389.5 910.27 L392.0 911.45 L393.3 912.09 L394.5 912.64 L397.0 913.82 L399.5 914.91 L402.1 916.09 L404.6 917.18 L407.1 918.27 L409.6 919.36 L412.1 920.36 L414.6 921.36 L417.2 922.36 L419.7 923.36 L422.2 924.18 L424.7 925.09 L426.7 925.73 L427.2 925.91 L429.7 926.64 L432.3 927.45 L434.8 928.18 L437.3 928.91 L439.8 929.64 L442.3 930.36 L444.8 931.09 L447.4 931.73 L449.9 932.45 L452.4 933.09 L454.9 933.73 L457.4 934.27 L459.9 934.91 L462.5 935.45 L465.0 936.00 L466.7 936.36 L467.5 936.55 L470.0 937.09 L472.5 937.55 L475.0 938.09 L477.6 938.64 L480.1 939.09 L482.6 939.64 L485.1 940.18 L487.6 940.64 L490.1 941.09 L492.7 941.64 L495.2 942.09 L497.7 942.55 L500.2 943.00 L502.7 943.36 L505.2 943.82 L507.8 944.18 L510.3 944.55 L512.8 944.91 L515.3 945.27 L516.7 945.45 L517.8 945.64 L520.3 945.91 L522.9 946.27 L525.4 946.55 L527.9 946.82 L530.4 947.18 L532.9 947.45 L535.4 947.82 L538.0 948.09 L540.5 948.36 L543.0 948.64 L545.5 949.00 L548.0 949.27 L550.5 949.55 L553.1 949.82 L555.6 950.09 L558.1 950.36 L560.6 950.64 L563.1 950.91 L565.6 951.18 L568.2 951.45 L570.7 951.73 L573.2 952.00 L575.7 952.27 L578.2 952.55 L580.7 952.73 L583.3 953.00 L583.3 953.00 L585.8 953.27 L588.3 953.45 L590.8 953.73 L593.3 954.00 L595.8 954.18 L598.4 954.45 L600.9 954.73 L603.4 954.91 L605.9 955.18 L608.4 955.45 L610.9 955.64 L613.5 955.91 L616.0 956.09 L618.5 956.36 L621.0 956.55 L623.5 956.82 L626.0 957.00 L628.6 957.27 L631.1 957.45 L633.6 957.73 L636.1 957.91 L638.6 958.18 L641.1 958.36 L643.7 958.55 L646.2 958.82 L648.7 959.00 L650.0 959.09 L651.2 959.18 L653.7 959.36 L656.2 959.55 L658.8 959.82 L661.3 960.00 L663.8 960.18 L666.3 960.36 L668.8 960.55 L671.3 960.73 L673.9 960.91 L676.4 961.18 L678.9 961.36 L681.4 961.55 L683.9 961.73 L686.4 961.91 L689.0 962.09 L691.5 962.27 L694.0 962.36 L696.5 962.55 L699.0 962.73 L701.5 962.91 L704.1 963.09 L706.6 963.27 L709.1 963.36 L711.6 963.55 L714.1 963.73 L716.6 963.82 L719.2 964.00 L721.7 964.09 L724.2 964.27 L726.7 964.36 L729.2 964.55 L730.0 964.55 L731.7 964.64 L734.3 964.73 L736.8 964.91 L739.3 965.00 L741.8 965.09 L744.3 965.27 L746.8 965.36 L749.4 965.45 L751.9 965.64 L754.4 965.73 L756.9 965.82 L759.4 965.91 L761.9 966.09 L764.5 966.18 L767.0 966.27 L769.5 966.36 L772.0 966.55 L774.5 966.64 L777.0 966.73 L779.6 966.82 L782.1 967.00 L784.6 967.09 L787.1 967.18 L789.6 967.27 L792.1 967.36 L794.7 967.45 L797.2 967.64 L799.7 967.73 L800.0 967.73 L802.2 967.82 L804.7 967.91 L807.2 968.00 L809.8 968.18 L812.3 968.27 L814.8 968.36 L817.3 968.45 L819.8 968.64 L822.3 968.73 L824.9 968.82 L827.4 968.91 L829.9 969.00 L832.4 969.18 L834.9 969.27 L837.4 969.36 L840.0 969.45 L842.5 969.64 L845.0 969.73 L847.5 969.82 L850.0 969.91 L852.5 970.00 L855.1 970.18 L857.6 970.27 L860.1 970.36 L862.6 970.45 L865.1 970.55 L867.6 970.64 L870.2 970.73 L872.7 970.91 L875.2 971.00 L877.7 971.09 L880.2 971.18 L882.7 971.27 L885.3 971.36 L887.8 971.45 L890.3 971.55 L892.8 971.64 L895.3 971.64 L897.8 971.73 L900.0 971.82 L900.4 971.82 L902.9 971.91 L905.4 972.00 L907.9 972.09 L910.4 972.09 L912.9 972.18 L915.5 972.27 L918.0 972.36 L920.5 972.45 L923.0 972.55 L925.5 972.55 L928.0 972.64 L930.5 972.73 L933.1 972.82 L935.6 972.91 L938.1 973.00 L940.6 973.00 L943.1 973.09 L945.6 973.18 L948.2 973.27 L950.7 973.36 L953.2 973.45 L955.7 973.45 L958.2 973.55 L960.7 973.64 L963.3 973.73 L965.8 973.82 L968.3 973.91 L970.8 973.91 L973.3 974.00 L975.8 974.09 L978.4 974.18 L980.9 974.27 L983.4 974.36 L985.9 974.36 L988.4 974.45 L990.9 974.55 L993.5 974.64 L996.0 974.73 L998.5 974.82 L1000.0 974.82 L1001.0 974.82 L1003.5 974.91 L1006.0 975.00 L1008.6 975.09 L1011.1 975.18 L1013.6 975.18 L1016.1 975.27 L1018.6 975.36 L1021.1 975.45 L1023.7 975.55 L1026.2 975.64 L1028.7 975.64 L1031.2 975.73 L1033.7 975.82 L1036.2 975.91 L1038.8 976.00 L1041.3 976.09 L1043.8 976.09 L1046.3 976.18 L1048.8 976.27 L1051.3 976.36 L1053.9 976.45 L1056.4 976.55 L1058.9 976.55 L1061.4 976.64 L1063.9 976.73 L1066.4 976.82 L1069.0 976.91 L1071.5 977.00 L1074.0 977.00 L1076.5 977.09 L1079.0 977.18 L1081.5 977.27 L1084.1 977.36 L1086.6 977.45 L1089.1 977.45 L1091.6 977.55 L1094.1 977.64 L1096.6 977.73 L1099.2 977.82 L1100.0 977.82 L1101.7 977.91 L1104.2 977.91 L1106.7 978.00 L1109.2 978.09 L1111.7 978.18 L1114.3 978.27 L1116.8 978.27 L1119.3 978.36 L1121.8 978.45 L1124.3 978.55 L1126.8 978.55 L1129.4 978.64 L1131.9 978.73 L1134.4 978.73 L1136.9 978.82 L1139.4 978.91 L1141.9 979.00 L1144.5 979.00 L1147.0 979.09 L1149.5 979.18 L1152.0 979.18 L1154.5 979.27 L1157.0 979.36 L1159.6 979.36 L1162.1 979.45 L1164.6 979.45 L1167.1 979.55 L1169.6 979.64 L1172.1 979.64 L1174.7 979.73 L1177.2 979.82 L1179.7 979.82 L1182.2 979.91 L1184.7 979.91 L1187.2 980.00 L1189.8 980.09 L1192.3 980.09 L1194.8 980.18 L1197.3 980.18 L1199.8 980.27 L1200.0 980.27 L1202.3 980.36 L1204.9 980.36 L1207.4 980.45 L1209.9 980.45 L1212.4 980.55 L1214.9 980.55 L1217.4 980.64 L1220.0 980.73 L1222.5 980.73 L1225.0 980.82 L1227.5 980.82 L1230.0 980.91 L1232.5 980.91 L1235.1 981.00 L1237.6 981.00 L1240.1 981.09 L1242.6 981.18 L1245.1 981.18 L1247.6 981.27 L1250.2 981.27 L1252.7 981.36 L1255.2 981.36 L1257.7 981.45 L1260.2 981.45 L1262.7 981.55 L1265.3 981.55 L1267.8 981.64 L1270.3 981.64 L1272.8 981.64 L1275.3 981.73 L1277.8 981.73 L1280.4 981.82 L1282.9 981.82 L1285.4 981.91 L1287.9 981.91 L1290.4 981.91 L1292.9 982.00 L1295.5 982.00 L1298.0 982.09 L1300.0 982.09 L1300.5 982.09 L1303.0 982.09 L1305.5 982.18 L1308.0 982.18 L1310.6 982.27 L1313.1 982.27 L1315.6 982.27 L1318.1 982.36 L1320.6 982.36 L1323.1 982.36 L1325.7 982.45 L1328.2 982.45 L1330.7 982.55 L1333.2 982.55 L1335.7 982.55 L1338.2 982.64 L1340.8 982.64 L1343.3 982.64 L1345.8 982.73 L1348.3 982.73 L1350.8 982.73 L1353.3 982.82 L1355.9 982.82 L1358.4 982.82 L1360.9 982.91 L1363.4 982.91 L1365.9 982.91 L1368.4 983.00 L1371.0 983.00 L1373.5 983.00 L1376.0 983.09 L1378.5 983.09 L1381.0 983.09 L1383.5 983.18 L1386.1 983.18 L1388.6 983.18 L1391.1 983.27 L1393.6 983.27 L1396.1 983.27 L1398.6 983.36 L1400.0 983.36 L1401.2 983.36 L1403.7 983.36 L1406.2 983.45 L1408.7 983.45 L1411.2 983.45 L1413.7 983.55 L1416.3 983.55 L1418.8 983.55 L1421.3 983.64 L1423.8 983.64 L1426.3 983.64 L1428.8 983.73 L1431.4 983.73 L1433.9 983.73 L1436.4 983.82 L1438.9 983.82 L1441.4 983.82 L1443.9 983.91 L1446.5 983.91 L1449.0 983.91 L1451.5 984.00 L1454.0 984.00 L1456.5 984.00 L1459.0 984.09 L1461.6 984.09 L1464.1 984.09 L1466.6 984.18 L1469.1 984.18 L1471.6 984.18 L1474.1 984.18 L1476.7 984.27 L1479.2 984.27 L1481.7 984.27 L1484.2 984.27 L1486.7 984.36 L1489.0 984.36 L1489.2 984.36 L1491.8 984.36 L1494.3 984.45 L1496.8 984.45 L1499.3 984.45 L1501.8 984.45 L1504.3 984.55 L1506.9 984.55 L1509.4 984.55 L1511.9 984.55 L1514.4 984.55 L1516.9 984.64 L1519.4 984.64 L1522.0 984.64 L1524.5 984.64 L1527.0 984.73 L1529.5 984.73 L1532.0 984.73 L1534.5 984.73 L1537.1 984.73 L1539.6 984.82 L1542.1 984.82 L1544.6 984.82 L1547.1 984.82 L1549.6 984.82 L1552.2 984.91 L1554.7 984.91 L1557.2 984.91 L1559.7 984.91 L1562.2 984.91 L1564.7 985.00 L1567.3 985.00 L1569.8 985.00 L1572.3 985.00 L1574.8 985.00 L1577.3 985.00 L1579.8 985.09 L1582.4 985.09 L1584.9 985.09 L1587.4 985.09 L1589.9 985.09 L1592.4 985.09 L1594.9 985.18 L1597.5 985.18 L1600.0 985.18 L1600.0 985.18 L1602.5 985.18 L1605.0 985.18 L1607.5 985.27 L1610.0 985.27 L1612.6 985.27 L1615.1 985.27 L1617.6 985.27 L1620.1 985.27 L1622.6 985.36 L1625.1 985.36 L1627.7 985.36 L1630.2 985.36 L1632.7 985.36 L1635.2 985.36 L1637.7 985.36 L1640.2 985.45 L1642.8 985.45 L1645.3 985.45 L1647.8 985.45 L1650.3 985.45 L1652.8 985.45 L1655.3 985.55 L1657.9 985.55 L1660.4 985.55 L1662.9 985.55 L1665.4 985.55 L1667.9 985.55 L1670.4 985.55 L1673.0 985.64 L1675.5 985.64 L1678.0 985.64 L1680.5 985.64" stroke="#00f"/>
</g></g>
<rect x="722" y="164.3" width="959.0" height="470" fill="#fff" opacity="0"/>
<path d="M802.0 534.8 v-10 M911.9 534.8 v-10 M1021.8 534.8 v-10 M1131.6 534.8 v-10 M1241.5 534.8 v-10 M1351.4 534.8 v-10 M1461.2 534.8 v-10 M1571.1 534.8 v-10 M1681.0 534.8 v-10 M802.0 534.8 h9 M1681.0 534.8 h-9 M802.0 460.7 h9 M1681.0 460.7 h-9 M802.0 386.6 h9 M1681.0 386.6 h-9 M802.0 312.5 h9 M1681.0 312.5 h-9 M802.0 238.4 h9 M1681.0 238.4 h-9 M802.0 164.3 h9 M1681.0 164.3 h-9" stroke="#000" stroke-width="2.4" fill="none"/>
<path d="M856.9 534.8 v-5.5 M966.8 534.8 v-5.5 M1076.7 534.8 v-5.5 M1186.6 534.8 v-5.5 M1296.4 534.8 v-5.5 M1406.3 534.8 v-5.5 M1516.2 534.8 v-5.5 M1626.1 534.8 v-5.5 M802.0 497.7 h5.5 M1681.0 497.7 h-5.5 M802.0 423.6 h5.5 M1681.0 423.6 h-5.5 M802.0 349.5 h5.5 M1681.0 349.5 h-5.5 M802.0 275.4 h5.5 M1681.0 275.4 h-5.5 M802.0 201.4 h5.5 M1681.0 201.4 h-5.5" stroke="#000" stroke-width="2.6" fill="none"/>
<path d="M801.0 407.0 L802.8 404.0 L804.5 401.1 L806.3 398.2 L808.0 395.4 L809.8 392.6 L811.6 389.9 L813.3 387.2 L815.1 384.6 L815.8 383.5 L816.9 381.9 L818.6 379.4 L820.4 377.0 L822.1 374.6 L823.9 372.3 L825.7 370.1 L827.4 367.9 L828.8 366.3 L829.2 365.9 L830.9 363.9 L832.7 362.2 L834.5 360.6 L836.2 359.1 L838.0 357.8 L839.8 356.7 L841.5 355.6 L841.7 355.5 L843.3 354.8 L845.0 354.3 L846.8 354.2 L848.2 354.2 L848.6 354.2 L850.3 354.4 L852.1 354.8 L853.8 355.6 L855.6 356.9 L857.2 358.6 L857.4 358.8 L859.1 361.2 L860.9 363.9 L862.7 366.9 L864.4 370.2 L866.2 373.8 L867.5 376.7 L867.9 377.7 L869.7 381.6 L871.5 385.5 L873.2 389.4 L875.0 393.4 L876.7 397.3 L877.9 399.9 L878.5 401.3 L880.3 405.2 L882.0 409.2 L883.8 413.3 L885.6 417.2 L887.3 421.2 L888.2 423.2 L889.1 425.1 L890.8 428.5 L892.6 431.6 L894.4 434.3 L896.1 436.8 L897.9 439.1 L898.6 440.0 L899.6 441.3 L901.4 443.5 L903.2 445.5 L904.9 447.4 L906.7 449.1 L908.5 450.6 L910.2 452.0 L911.5 452.9 L912.0 453.2 L913.7 454.3 L915.5 455.3 L917.3 456.2 L919.0 457.0 L920.8 457.7 L922.5 458.3 L924.3 458.8 L924.4 458.8 L926.1 459.2 L927.8 459.6 L929.6 459.9 L931.4 460.2 L933.1 460.4 L934.9 460.5 L936.6 460.6 L937.3 460.6 L938.4 460.6 L940.2 460.5 L941.9 460.5 L943.7 460.3 L945.4 460.1 L947.2 459.9 L949.0 459.6 L950.7 459.3 L952.5 458.9 L952.8 458.8 L954.3 458.4 L956.0 458.0 L957.8 457.4 L959.5 456.8 L961.3 456.2 L963.1 455.5 L964.8 454.7 L966.6 453.9 L968.3 453.0 L970.1 452.1 L970.9 451.6 L971.9 451.0 L973.6 449.9 L975.4 448.8 L977.2 447.6 L978.9 446.4 L980.7 445.1 L982.4 443.8 L984.2 442.4 L986.0 441.0 L987.7 439.5 L989.5 438.0 L991.2 436.4 L991.6 436.1 L993.0 434.8 L994.8 433.2 L996.5 431.6 L998.3 429.9 L1000.1 428.3 L1001.8 426.6 L1003.6 424.8 L1005.3 423.1 L1007.1 421.5 L1008.9 419.8 L1010.6 418.1 L1012.3 416.4 L1012.4 416.3 L1014.1 414.5 L1015.9 412.6 L1017.7 410.7 L1019.4 408.9 L1021.2 407.0 L1023.0 405.1 L1024.7 403.2 L1026.5 401.3 L1028.2 399.4 L1030.0 397.5 L1031.8 395.6 L1033.0 394.2 L1033.5 393.6 L1035.3 391.7 L1037.0 389.8 L1038.8 387.8 L1040.6 385.9 L1042.3 384.0 L1044.1 382.0 L1045.9 380.1 L1047.6 378.1 L1049.4 376.1 L1051.1 374.1 L1052.9 372.1 L1053.6 371.3 L1054.7 370.1 L1056.4 368.1 L1058.2 366.2 L1059.9 364.4 L1061.7 362.6 L1063.5 360.8 L1065.2 359.1 L1067.0 357.4 L1068.8 355.8 L1070.5 354.2 L1072.3 352.6 L1074.0 351.0 L1074.3 350.8 L1075.8 349.5 L1077.6 348.1 L1079.3 346.7 L1081.1 345.3 L1082.8 344.1 L1084.6 342.8 L1086.4 341.7 L1088.1 340.6 L1089.8 339.5 L1089.9 339.5 L1091.7 338.5 L1093.4 337.9 L1095.2 337.4 L1096.9 337.1 L1098.7 336.8 L1100.5 336.7 L1102.2 336.6 L1102.7 336.6 L1104.0 336.6 L1105.7 336.8 L1107.5 337.2 L1109.3 337.7 L1111.0 338.3 L1112.8 339.0 L1114.6 339.9 L1115.7 340.5 L1116.3 340.8 L1118.1 341.9 L1119.8 342.9 L1121.6 344.1 L1123.4 345.4 L1125.1 346.8 L1126.9 348.5 L1128.6 350.3 L1130.4 352.4 L1131.2 353.4 L1132.2 354.7 L1133.9 357.0 L1135.7 359.4 L1137.5 361.7 L1139.2 364.1 L1141.0 366.5 L1142.7 368.8 L1144.5 371.2 L1146.3 373.5 L1146.7 374.1 L1148.0 375.9 L1149.8 378.2 L1151.5 380.5 L1153.3 382.9 L1155.1 385.2 L1156.8 387.6 L1158.6 389.9 L1160.4 392.3 L1162.1 394.6 L1162.2 394.7 L1163.9 396.9 L1165.6 399.1 L1167.4 401.4 L1169.2 403.6 L1170.9 405.7 L1172.7 407.9 L1174.4 410.1 L1176.2 412.2 L1177.7 414.1 L1178.0 414.4 L1179.7 416.6 L1181.5 418.8 L1183.3 421.0 L1185.0 423.1 L1186.8 425.3 L1188.5 427.4 L1190.3 429.5 L1192.1 431.6 L1193.8 433.7 L1195.6 435.7 L1197.3 437.8 L1198.4 439.0 L1199.1 439.8 L1200.9 441.7 L1202.6 443.5 L1204.4 445.2 L1206.2 446.7 L1207.9 448.2 L1209.7 449.7 L1211.4 451.0 L1213.2 452.4 L1215.0 453.6 L1216.7 454.9 L1218.5 456.1 L1219.0 456.5 L1220.2 457.4 L1222.0 458.6 L1223.8 459.8 L1225.5 460.9 L1227.3 462.1 L1229.1 463.2 L1230.8 464.3 L1232.6 465.3 L1234.3 466.3 L1236.1 467.3 L1237.9 468.2 L1239.6 469.1 L1240.0 469.3 L1241.4 470.0 L1243.1 470.8 L1244.9 471.6 L1246.7 472.5 L1248.4 473.3 L1250.2 474.1 L1251.9 474.9 L1253.7 475.7 L1255.5 476.5 L1257.2 477.3 L1259.0 478.0 L1260.8 478.8 L1262.5 479.5 L1264.3 480.2 L1266.0 480.9 L1267.8 481.6 L1269.6 482.3 L1271.3 482.9 L1273.1 483.6 L1274.8 484.2 L1276.6 484.8 L1278.4 485.4 L1280.1 485.9 L1281.9 486.5 L1283.7 487.0 L1285.4 487.5 L1286.2 487.7 L1287.2 488.0 L1288.9 488.4 L1290.7 488.9 L1292.5 489.4 L1294.2 489.8 L1296.0 490.3 L1297.7 490.7 L1299.5 491.2 L1301.3 491.6 L1303.0 492.1 L1304.8 492.5 L1306.6 492.9 L1308.3 493.3 L1310.1 493.7 L1311.8 494.1 L1313.6 494.5 L1315.4 494.9 L1317.1 495.3 L1318.9 495.7 L1320.6 496.0 L1322.4 496.4 L1324.2 496.7 L1325.9 497.1 L1327.7 497.4 L1329.2 497.7 L1329.5 497.7 L1331.2 498.1 L1333.0 498.4 L1334.7 498.7 L1336.5 499.0 L1338.3 499.4 L1340.0 499.7 L1341.8 500.0 L1343.5 500.3 L1345.3 500.6 L1347.1 500.9 L1348.8 501.2 L1350.6 501.6 L1352.4 501.9 L1354.1 502.2 L1355.9 502.4 L1357.6 502.7 L1359.4 503.0 L1361.2 503.3 L1362.9 503.6 L1364.7 503.8 L1366.4 504.1 L1368.2 504.3 L1370.0 504.6 L1371.7 504.8 L1372.3 504.9 L1373.5 505.1 L1375.3 505.3 L1377.0 505.5 L1378.8 505.7 L1380.5 506.0 L1382.3 506.2 L1384.1 506.4 L1385.8 506.6 L1387.6 506.8 L1389.3 507.1 L1391.1 507.3 L1392.9 507.5 L1394.6 507.7 L1396.4 507.9 L1398.2 508.1 L1399.9 508.3 L1401.7 508.5 L1403.4 508.7 L1405.2 508.9 L1407.0 509.1 L1408.7 509.3 L1410.5 509.5 L1412.2 509.7 L1414.0 509.9 L1415.8 510.1 L1417.5 510.3 L1419.3 510.4 L1421.1 510.6 L1422.8 510.8 L1424.6 511.0 L1426.3 511.2 L1428.1 511.3 L1429.8 511.5 L1429.9 511.5 L1431.6 511.7 L1433.4 511.8 L1435.1 512.0 L1436.9 512.2 L1438.7 512.4 L1440.4 512.5 L1442.2 512.7 L1444.0 512.9 L1445.7 513.0 L1447.5 513.2 L1449.2 513.4 L1451.0 513.5 L1452.8 513.7 L1454.5 513.8 L1456.3 514.0 L1458.0 514.2 L1459.8 514.3 L1461.6 514.5 L1463.3 514.6 L1465.1 514.8 L1466.9 514.9 L1468.6 515.1 L1470.4 515.2 L1472.1 515.3 L1473.9 515.5 L1475.7 515.6 L1477.4 515.7 L1479.2 515.9 L1480.9 516.0 L1482.7 516.1 L1484.5 516.2 L1486.2 516.3 L1487.2 516.4 L1488.0 516.4 L1489.8 516.6 L1491.5 516.7 L1493.3 516.8 L1495.0 516.9 L1496.8 517.0 L1498.6 517.1 L1500.3 517.2 L1502.1 517.3 L1503.8 517.4 L1505.6 517.5 L1507.4 517.6 L1509.1 517.7 L1510.9 517.8 L1512.7 517.8 L1514.4 517.9 L1516.2 518.0 L1517.9 518.1 L1519.7 518.2 L1521.5 518.3 L1523.2 518.4 L1525.0 518.5 L1526.7 518.5 L1528.5 518.6 L1530.3 518.7 L1532.0 518.8 L1533.8 518.8 L1535.6 518.9 L1537.3 519.0 L1539.1 519.1 L1540.8 519.1 L1542.6 519.2 L1544.4 519.3 L1544.6 519.3 L1546.1 519.4 L1547.9 519.4 L1549.6 519.5 L1551.4 519.6 L1553.2 519.6 L1554.9 519.7 L1556.7 519.8 L1558.5 519.8 L1560.2 519.9 L1562.0 520.0 L1563.7 520.0 L1565.5 520.1 L1567.3 520.2 L1569.0 520.2 L1570.8 520.3 L1572.5 520.4 L1574.3 520.4 L1576.1 520.5 L1577.8 520.6 L1579.6 520.6 L1581.4 520.7 L1583.1 520.7 L1584.9 520.8 L1586.6 520.8 L1588.4 520.9 L1590.2 521.0 L1591.9 521.0 L1593.7 521.1 L1595.4 521.1 L1597.2 521.2 L1599.0 521.2 L1600.7 521.3 L1602.1 521.3 L1602.5 521.3 L1604.3 521.4 L1606.0 521.4 L1607.8 521.4 L1609.5 521.5 L1611.3 521.5 L1613.1 521.6 L1614.8 521.6 L1616.6 521.7 L1618.3 521.7 L1620.1 521.7 L1621.9 521.8 L1623.6 521.8 L1625.4 521.9 L1627.2 521.9 L1628.9 521.9 L1630.7 522.0 L1632.4 522.0 L1634.2 522.0 L1636.0 522.1 L1637.7 522.1 L1639.5 522.1 L1641.2 522.2 L1643.0 522.2 L1644.8 522.2 L1646.5 522.3 L1648.3 522.3 L1650.1 522.3 L1651.8 522.3 L1653.6 522.4 L1655.3 522.4 L1657.1 522.4 L1658.9 522.5 L1660.6 522.5 L1662.4 522.5 L1664.1 522.5 L1665.9 522.5 L1667.7 522.6 L1669.4 522.6 L1671.2 522.6 L1673.0 522.6 L1674.7 522.6 L1676.5 522.7 L1678.2 522.7 L1680.0 522.7" stroke="#ff0a0a" stroke-width="4.3" fill="none" stroke-linejoin="round"/>
<path d="M801.0 418.5 L813.5 391.5 L829.1 355.0 L841.9 320.0 L856.6 286.6 L869.0 314.2 L869.4 316.4 L871.0 327.4 L871.6 332.0 L872.7 342.1 L874.2 356.0 L874.3 356.8 L875.9 368.8 L877.6 380.3 L879.2 391.6 L880.0 397.0 L880.8 402.7 L882.5 413.7 L884.1 424.3 L885.7 434.1 L885.9 435.0 L887.4 442.5 L889.0 449.0 L890.6 453.9 L892.3 457.6 L893.6 460.0 L893.9 460.5 L895.6 463.2 L897.2 465.6 L898.8 467.9 L900.5 469.9 L902.1 471.6 L903.7 473.0 L904.5 473.5 L905.4 474.0 L907.0 475.0 L908.6 475.9 L910.3 476.7 L911.9 477.4 L913.5 478.0 L915.2 478.4 L916.8 478.5 L918.0 478.5 L918.4 478.5 L920.1 478.3 L921.7 478.0 L923.3 477.6 L925.0 477.2 L926.6 476.6 L928.2 475.9 L929.9 475.1 L931.5 474.2 L932.5 473.6 L933.1 473.2 L934.8 472.1 L936.4 471.0 L938.0 469.9 L939.7 468.7 L941.3 467.5 L942.9 466.2 L944.6 464.9 L946.2 463.4 L947.8 461.9 L949.5 460.3 L950.3 459.4 L951.1 458.5 L952.8 456.7 L954.4 454.9 L956.0 453.0 L957.7 451.1 L959.3 449.2 L960.9 447.3 L962.6 445.4 L964.2 443.6 L965.8 441.7 L967.5 439.9 L969.1 438.1 L970.7 436.3 L970.9 436.1 L972.4 434.5 L974.0 432.8 L975.6 431.1 L977.3 429.4 L978.9 427.6 L980.5 425.9 L982.2 424.2 L983.8 422.5 L985.4 420.8 L987.1 419.1 L988.7 417.4 L990.3 415.7 L992.0 414.0 L993.6 412.3 L995.2 410.6 L996.8 409.0 L996.9 408.9 L998.5 407.2 L1000.1 405.6 L1001.8 404.0 L1003.4 402.3 L1005.0 400.7 L1006.7 399.1 L1008.3 397.5 L1009.9 396.0 L1011.6 394.4 L1013.2 392.9 L1014.9 391.4 L1016.5 389.9 L1018.1 388.4 L1019.8 386.9 L1021.4 385.5 L1022.6 384.4 L1023.0 384.0 L1024.7 382.7 L1026.3 381.4 L1027.9 380.1 L1029.6 379.0 L1031.2 377.9 L1032.8 376.9 L1034.5 375.9 L1036.1 374.9 L1037.7 374.1 L1039.4 373.2 L1041.0 372.4 L1042.6 371.6 L1044.3 370.8 L1045.9 370.1 L1047.5 369.3 L1048.5 368.9 L1049.2 368.6 L1050.8 367.9 L1052.4 367.2 L1054.1 366.6 L1055.7 366.0 L1057.3 365.5 L1059.0 365.0 L1060.6 364.5 L1062.2 364.1 L1063.9 363.7 L1065.5 363.4 L1067.1 363.1 L1068.8 362.8 L1070.4 362.7 L1072.1 362.5 L1073.7 362.4 L1074.3 362.4 L1075.3 362.4 L1077.0 362.4 L1078.6 362.4 L1080.2 362.5 L1081.9 362.6 L1083.5 362.8 L1085.1 363.0 L1086.8 363.3 L1088.4 363.6 L1090.0 364.0 L1091.7 364.4 L1093.3 364.9 L1094.9 365.5 L1096.6 366.1 L1098.2 366.7 L1099.8 367.4 L1100.2 367.6 L1101.5 368.2 L1103.1 369.0 L1104.7 369.7 L1106.4 370.5 L1108.0 371.3 L1109.6 372.1 L1111.3 373.0 L1112.9 373.8 L1114.5 374.7 L1116.2 375.6 L1117.8 376.6 L1119.4 377.5 L1121.1 378.6 L1122.7 379.6 L1124.3 380.7 L1126.0 381.8 L1126.0 381.8 L1127.6 382.9 L1129.3 384.1 L1130.9 385.2 L1132.5 386.3 L1134.2 387.5 L1135.8 388.6 L1137.4 389.8 L1139.1 390.9 L1140.7 392.1 L1142.3 393.2 L1144.0 394.3 L1145.6 395.5 L1147.2 396.6 L1148.9 397.8 L1150.5 398.9 L1151.9 399.9 L1152.1 400.1 L1153.8 401.2 L1155.4 402.4 L1157.0 403.5 L1158.7 404.6 L1160.3 405.8 L1161.9 406.9 L1163.6 408.1 L1165.2 409.2 L1166.8 410.4 L1168.5 411.5 L1170.1 412.7 L1171.7 413.8 L1173.4 415.0 L1175.0 416.1 L1176.6 417.3 L1177.7 418.0 L1178.3 418.4 L1179.9 419.5 L1181.5 420.7 L1183.2 421.8 L1184.8 422.9 L1186.5 424.0 L1188.1 425.1 L1189.7 426.2 L1191.4 427.3 L1193.0 428.4 L1194.6 429.5 L1196.3 430.6 L1197.9 431.7 L1199.5 432.8 L1200.0 433.1 L1201.2 433.9 L1202.8 435.0 L1204.4 436.0 L1206.1 437.1 L1207.7 438.2 L1209.3 439.2 L1211.0 440.2 L1212.6 441.3 L1214.2 442.3 L1215.9 443.3 L1217.5 444.3 L1219.1 445.3 L1220.8 446.3 L1222.4 447.3 L1224.0 448.3 L1225.7 449.2 L1227.3 450.2 L1228.9 451.2 L1230.6 452.1 L1232.2 453.1 L1233.8 454.0 L1235.5 454.9 L1237.1 455.9 L1238.7 456.8 L1240.0 457.5 L1240.4 457.7 L1242.0 458.6 L1243.7 459.5 L1245.3 460.4 L1246.9 461.2 L1248.6 462.1 L1250.2 462.9 L1251.8 463.7 L1253.5 464.6 L1255.1 465.4 L1256.7 466.2 L1258.4 467.0 L1260.0 467.7 L1261.6 468.5 L1263.3 469.2 L1264.9 470.0 L1266.5 470.7 L1268.2 471.4 L1269.8 472.1 L1271.4 472.7 L1273.1 473.4 L1274.7 474.0 L1276.3 474.7 L1278.0 475.3 L1279.6 475.9 L1281.2 476.5 L1282.9 477.1 L1284.5 477.7 L1286.1 478.2 L1286.2 478.2 L1287.8 478.8 L1289.4 479.3 L1291.0 479.8 L1292.7 480.4 L1294.3 480.9 L1295.9 481.4 L1297.6 481.9 L1299.2 482.4 L1300.8 482.9 L1302.5 483.4 L1304.1 483.9 L1305.8 484.4 L1307.4 484.8 L1309.0 485.3 L1310.7 485.8 L1312.3 486.2 L1313.9 486.6 L1315.6 487.1 L1317.2 487.5 L1318.8 487.9 L1320.5 488.3 L1322.1 488.7 L1323.7 489.1 L1325.4 489.4 L1327.0 489.8 L1328.6 490.1 L1329.2 490.3 L1330.3 490.5 L1331.9 490.8 L1333.5 491.2 L1335.2 491.5 L1336.8 491.8 L1338.4 492.2 L1340.1 492.5 L1341.7 492.8 L1343.3 493.2 L1345.0 493.5 L1346.6 493.8 L1348.2 494.1 L1349.9 494.4 L1351.5 494.7 L1353.1 495.1 L1354.8 495.4 L1356.4 495.7 L1358.0 496.0 L1359.7 496.3 L1361.3 496.6 L1363.0 496.9 L1364.6 497.1 L1366.2 497.4 L1367.9 497.7 L1369.5 498.0 L1371.1 498.2 L1372.3 498.4 L1372.8 498.5 L1374.4 498.8 L1376.0 499.0 L1377.7 499.3 L1379.3 499.5 L1380.9 499.8 L1382.6 500.0 L1384.2 500.3 L1385.8 500.6 L1387.5 500.8 L1389.1 501.1 L1390.7 501.3 L1392.4 501.6 L1394.0 501.8 L1395.6 502.1 L1397.3 502.3 L1398.9 502.5 L1400.5 502.8 L1402.2 503.0 L1403.8 503.3 L1405.4 503.5 L1407.1 503.7 L1408.7 504.0 L1410.3 504.2 L1412.0 504.4 L1413.6 504.7 L1415.2 504.9 L1416.9 505.1 L1418.5 505.3 L1420.2 505.5 L1421.8 505.7 L1423.4 506.0 L1425.1 506.2 L1426.7 506.4 L1428.3 506.6 L1429.8 506.8 L1430.0 506.8 L1431.6 507.0 L1433.2 507.2 L1434.9 507.4 L1436.5 507.6 L1438.1 507.7 L1439.8 507.9 L1441.4 508.1 L1443.0 508.3 L1444.7 508.5 L1446.3 508.7 L1447.9 508.9 L1449.6 509.0 L1451.2 509.2 L1452.8 509.4 L1454.5 509.6 L1456.1 509.7 L1457.7 509.9 L1459.4 510.1 L1461.0 510.3 L1462.6 510.4 L1464.3 510.6 L1465.9 510.8 L1467.5 510.9 L1469.2 511.1 L1470.8 511.3 L1472.4 511.4 L1474.1 511.6 L1475.7 511.7 L1477.4 511.9 L1479.0 512.0 L1480.6 512.2 L1482.3 512.3 L1483.9 512.5 L1485.5 512.6 L1487.2 512.8 L1487.2 512.8 L1488.8 512.9 L1490.4 513.1 L1492.1 513.2 L1493.7 513.3 L1495.3 513.5 L1497.0 513.6 L1498.6 513.8 L1500.2 513.9 L1501.9 514.0 L1503.5 514.2 L1505.1 514.3 L1506.8 514.4 L1508.4 514.6 L1510.0 514.7 L1511.7 514.8 L1513.3 515.0 L1514.9 515.1 L1516.6 515.2 L1518.2 515.3 L1519.8 515.5 L1521.5 515.6 L1523.1 515.7 L1524.7 515.8 L1526.4 515.9 L1528.0 516.0 L1529.6 516.2 L1531.3 516.3 L1532.9 516.4 L1534.6 516.5 L1536.2 516.6 L1537.8 516.7 L1539.5 516.8 L1541.1 516.9 L1542.7 517.0 L1544.4 517.1 L1544.6 517.1 L1546.0 517.2 L1547.6 517.3 L1549.3 517.3 L1550.9 517.4 L1552.5 517.5 L1554.2 517.6 L1555.8 517.7 L1557.4 517.8 L1559.1 517.9 L1560.7 517.9 L1562.3 518.0 L1564.0 518.1 L1565.6 518.2 L1567.2 518.3 L1568.9 518.3 L1570.5 518.4 L1572.1 518.5 L1573.8 518.6 L1575.4 518.6 L1577.0 518.7 L1578.7 518.8 L1580.3 518.8 L1581.9 518.9 L1583.6 519.0 L1585.2 519.1 L1586.8 519.1 L1588.5 519.2 L1590.1 519.3 L1591.7 519.3 L1593.4 519.4 L1595.0 519.4 L1596.7 519.5 L1598.3 519.6 L1599.9 519.6 L1601.6 519.7 L1602.1 519.7 L1603.2 519.7 L1604.8 519.8 L1606.5 519.8 L1608.1 519.9 L1609.7 520.0 L1611.4 520.0 L1613.0 520.1 L1614.6 520.1 L1616.3 520.2 L1617.9 520.2 L1619.5 520.3 L1621.2 520.3 L1622.8 520.4 L1624.4 520.5 L1626.1 520.5 L1627.7 520.6 L1629.3 520.6 L1631.0 520.7 L1632.6 520.7 L1634.2 520.8 L1635.9 520.8 L1637.5 520.9 L1639.1 520.9 L1640.8 521.0 L1642.4 521.0 L1644.0 521.1 L1645.7 521.1 L1647.3 521.2 L1648.9 521.2 L1650.6 521.3 L1652.2 521.3 L1653.9 521.3 L1655.5 521.4 L1657.1 521.4 L1658.8 521.5 L1660.4 521.5 L1662.0 521.6 L1663.7 521.6 L1665.3 521.7 L1666.9 521.7 L1668.6 521.7 L1670.2 521.8 L1671.8 521.8 L1673.5 521.9 L1675.1 521.9 L1676.7 521.9 L1678.4 522.0 L1680.0 522.0" stroke="#ff8200" stroke-width="4.2" fill="none" stroke-linejoin="miter" stroke-miterlimit="6"/>
<path d="M801.6 444.6 L803.4 442.7 L805.1 440.9 L806.9 439.2 L808.6 437.5 L810.4 435.9 L812.2 434.4 L813.9 433.0 L815.7 431.7 L815.8 431.6 L817.4 430.4 L819.2 429.2 L821.0 428.1 L822.7 427.0 L824.5 426.1 L826.2 425.2 L828.0 424.4 L829.8 423.7 L831.4 423.1 L831.5 423.1 L833.3 422.5 L835.0 422.0 L836.8 421.6 L838.6 421.2 L840.3 420.9 L842.1 420.7 L843.8 420.5 L845.6 420.4 L847.4 420.4 L849.1 420.5 L849.4 420.5 L850.9 420.6 L852.6 420.7 L854.4 420.9 L856.2 421.1 L857.9 421.3 L859.7 421.6 L861.5 421.8 L863.2 422.2 L865.0 422.5 L866.7 422.9 L867.5 423.1 L868.5 423.3 L870.3 423.8 L872.0 424.3 L873.8 424.9 L875.5 425.4 L877.3 426.0 L879.1 426.5 L880.8 427.0 L882.6 427.5 L884.3 428.0 L885.6 428.3 L886.1 428.4 L887.9 428.8 L889.6 429.2 L891.4 429.5 L893.1 429.8 L894.9 430.2 L896.7 430.4 L898.4 430.7 L900.2 431.0 L901.1 431.1 L901.9 431.2 L903.7 431.4 L905.5 431.5 L907.2 431.6 L909.0 431.6 L910.7 431.6 L912.5 431.6 L914.1 431.6 L914.3 431.6 L916.0 431.5 L917.8 431.4 L919.5 431.2 L921.3 431.1 L923.1 430.8 L924.8 430.5 L926.6 430.2 L928.3 429.9 L930.1 429.5 L931.9 429.1 L932.2 429.0 L933.6 428.6 L935.4 428.1 L937.1 427.5 L938.9 426.8 L940.7 426.1 L942.4 425.4 L944.2 424.6 L945.9 423.7 L947.7 422.8 L949.5 421.8 L950.3 421.3 L951.2 420.7 L953.0 419.6 L954.7 418.5 L956.5 417.3 L958.3 416.2 L960.0 415.0 L961.8 413.8 L963.5 412.5 L965.3 411.3 L967.1 410.0 L968.8 408.6 L970.6 407.3 L970.9 407.0 L972.4 405.9 L974.1 404.5 L975.9 403.1 L977.6 401.7 L979.4 400.3 L981.2 398.9 L982.9 397.5 L984.7 396.0 L986.4 394.6 L988.2 393.1 L990.0 391.6 L991.6 390.2 L991.7 390.1 L993.5 388.6 L995.2 387.1 L997.0 385.6 L998.8 384.0 L1000.5 382.5 L1002.3 380.9 L1004.0 379.3 L1005.8 377.8 L1007.6 376.2 L1009.3 374.7 L1011.1 373.2 L1012.3 372.1 L1012.8 371.6 L1014.6 370.1 L1016.4 368.7 L1018.1 367.2 L1019.9 365.7 L1021.6 364.3 L1023.4 362.8 L1025.2 361.4 L1026.9 360.0 L1028.7 358.6 L1030.4 357.3 L1032.2 355.9 L1033.0 355.3 L1034.0 354.6 L1035.7 353.3 L1037.5 352.1 L1039.2 350.9 L1041.0 349.8 L1042.8 348.8 L1044.5 347.9 L1046.3 346.9 L1048.0 346.1 L1049.8 345.3 L1051.6 344.5 L1053.3 343.8 L1053.6 343.7 L1055.1 343.1 L1056.8 342.5 L1058.6 341.9 L1060.4 341.4 L1062.1 340.9 L1063.9 340.4 L1065.6 340.0 L1067.4 339.6 L1069.1 339.3 L1069.2 339.2 L1070.9 338.9 L1072.7 338.6 L1074.4 338.3 L1076.2 338.1 L1078.0 337.9 L1079.7 337.8 L1081.5 337.7 L1082.1 337.6 L1083.3 337.6 L1085.0 337.6 L1086.8 337.7 L1088.5 337.9 L1090.3 338.2 L1092.1 338.5 L1093.8 338.9 L1095.0 339.2 L1095.6 339.4 L1097.3 339.9 L1099.1 340.5 L1100.9 341.1 L1102.6 341.9 L1104.4 342.7 L1106.1 343.5 L1107.9 344.5 L1109.7 345.6 L1110.5 346.1 L1111.4 346.7 L1113.2 347.9 L1114.9 349.1 L1116.7 350.4 L1118.5 351.7 L1120.2 353.1 L1122.0 354.4 L1123.7 355.9 L1125.5 357.4 L1126.0 357.8 L1127.3 358.9 L1129.0 360.4 L1130.8 361.9 L1132.5 363.5 L1134.3 365.1 L1136.1 366.7 L1137.8 368.3 L1139.6 370.0 L1141.3 371.8 L1141.5 372.0 L1143.1 373.6 L1144.9 375.5 L1146.6 377.4 L1148.4 379.4 L1150.1 381.4 L1151.9 383.3 L1153.7 385.2 L1155.4 387.1 L1157.0 388.7 L1157.2 388.9 L1158.9 390.7 L1160.7 392.5 L1162.5 394.3 L1164.2 396.1 L1166.0 397.8 L1167.7 399.6 L1169.5 401.3 L1171.3 403.1 L1173.0 404.8 L1174.8 406.6 L1176.5 408.3 L1177.7 409.4 L1178.3 410.0 L1180.1 411.7 L1181.8 413.4 L1183.6 415.1 L1185.3 416.8 L1187.1 418.4 L1188.9 420.1 L1190.6 421.7 L1192.4 423.3 L1194.2 424.9 L1195.9 426.5 L1197.7 428.0 L1198.4 428.7 L1199.4 429.6 L1201.2 431.0 L1203.0 432.5 L1204.7 433.9 L1206.5 435.2 L1208.2 436.6 L1210.0 437.9 L1211.8 439.1 L1213.5 440.4 L1215.3 441.6 L1217.0 442.9 L1218.8 444.1 L1219.0 444.2 L1220.6 445.3 L1222.3 446.5 L1224.1 447.7 L1225.8 448.9 L1227.6 450.1 L1229.4 451.2 L1231.1 452.3 L1232.9 453.4 L1234.6 454.5 L1236.4 455.5 L1238.2 456.6 L1239.9 457.6 L1240.0 457.6 L1241.7 458.5 L1243.4 459.5 L1245.2 460.5 L1247.0 461.4 L1248.7 462.3 L1250.5 463.2 L1252.2 464.1 L1254.0 465.0 L1255.8 465.8 L1257.5 466.7 L1259.3 467.5 L1261.0 468.3 L1262.8 469.1 L1264.6 469.9 L1266.3 470.7 L1268.1 471.4 L1269.8 472.2 L1271.6 472.9 L1273.4 473.6 L1275.1 474.3 L1276.9 474.9 L1278.6 475.6 L1280.4 476.2 L1282.2 476.8 L1283.9 477.4 L1285.7 478.0 L1286.2 478.1 L1287.4 478.5 L1289.2 479.1 L1291.0 479.6 L1292.7 480.2 L1294.5 480.7 L1296.3 481.2 L1298.0 481.7 L1299.8 482.2 L1301.5 482.8 L1303.3 483.2 L1305.1 483.7 L1306.8 484.2 L1308.6 484.7 L1310.3 485.2 L1312.1 485.6 L1313.9 486.0 L1315.6 486.5 L1317.4 486.9 L1319.1 487.3 L1320.9 487.7 L1322.7 488.1 L1324.4 488.5 L1326.2 488.9 L1327.9 489.3 L1329.2 489.5 L1329.7 489.6 L1331.5 490.0 L1333.2 490.3 L1335.0 490.7 L1336.7 491.0 L1338.5 491.3 L1340.3 491.7 L1342.0 492.0 L1343.8 492.4 L1345.5 492.7 L1347.3 493.0 L1349.1 493.4 L1350.8 493.7 L1352.6 494.0 L1354.3 494.3 L1356.1 494.7 L1357.9 495.0 L1359.6 495.3 L1361.4 495.6 L1363.1 495.9 L1364.9 496.2 L1366.7 496.5 L1368.4 496.7 L1370.2 497.0 L1371.9 497.3 L1372.3 497.4 L1373.7 497.6 L1375.5 497.8 L1377.2 498.1 L1379.0 498.4 L1380.7 498.6 L1382.5 498.9 L1384.3 499.1 L1386.0 499.4 L1387.8 499.7 L1389.5 499.9 L1391.3 500.2 L1393.1 500.4 L1394.8 500.7 L1396.6 500.9 L1398.3 501.2 L1400.1 501.4 L1401.9 501.7 L1403.6 501.9 L1405.4 502.1 L1407.2 502.4 L1408.9 502.6 L1410.7 502.8 L1412.4 503.1 L1414.2 503.3 L1416.0 503.5 L1417.7 503.7 L1419.5 504.0 L1421.2 504.2 L1423.0 504.4 L1424.8 504.6 L1426.5 504.8 L1428.3 505.0 L1429.8 505.2 L1430.0 505.2 L1431.8 505.4 L1433.6 505.6 L1435.3 505.8 L1437.1 506.0 L1438.8 506.2 L1440.6 506.3 L1442.4 506.5 L1444.1 506.7 L1445.9 506.9 L1447.6 507.1 L1449.4 507.2 L1451.2 507.4 L1452.9 507.6 L1454.7 507.8 L1456.4 507.9 L1458.2 508.1 L1460.0 508.3 L1461.7 508.4 L1463.5 508.6 L1465.2 508.8 L1467.0 508.9 L1468.8 509.1 L1470.5 509.2 L1472.3 509.4 L1474.0 509.5 L1475.8 509.7 L1477.6 509.8 L1479.3 510.0 L1481.1 510.1 L1482.8 510.3 L1484.6 510.4 L1486.4 510.6 L1487.2 510.6 L1488.1 510.7 L1489.9 510.8 L1491.6 511.0 L1493.4 511.1 L1495.2 511.2 L1496.9 511.4 L1498.7 511.5 L1500.4 511.6 L1502.2 511.8 L1504.0 511.9 L1505.7 512.1 L1507.5 512.2 L1509.2 512.4 L1511.0 512.5 L1512.8 512.6 L1514.5 512.8 L1516.3 512.9 L1518.1 513.0 L1519.8 513.2 L1521.6 513.3 L1523.3 513.4 L1525.1 513.6 L1526.9 513.7 L1528.6 513.8 L1530.4 513.9 L1532.1 514.0 L1533.9 514.2 L1535.7 514.3 L1537.4 514.4 L1539.2 514.5 L1540.9 514.6 L1542.7 514.7 L1544.5 514.8 L1544.6 514.8 L1546.2 514.9 L1548.0 515.0 L1549.7 515.1 L1551.5 515.2 L1553.3 515.3 L1555.0 515.4 L1556.8 515.4 L1558.5 515.5 L1560.3 515.6 L1562.1 515.7 L1563.8 515.8 L1565.6 515.9 L1567.3 516.0 L1569.1 516.1 L1570.9 516.1 L1572.6 516.2 L1574.4 516.3 L1576.1 516.4 L1577.9 516.4 L1579.7 516.5 L1581.4 516.6 L1583.2 516.7 L1584.9 516.7 L1586.7 516.8 L1588.5 516.9 L1590.2 517.0 L1592.0 517.0 L1593.7 517.1 L1595.5 517.2 L1597.3 517.2 L1599.0 517.3 L1600.8 517.4 L1602.1 517.4 L1602.5 517.4 L1604.3 517.5 L1606.1 517.5 L1607.8 517.6 L1609.6 517.7 L1611.3 517.7 L1613.1 517.8 L1614.9 517.8 L1616.6 517.9 L1618.4 518.0 L1620.1 518.0 L1621.9 518.1 L1623.7 518.1 L1625.4 518.2 L1627.2 518.2 L1629.0 518.3 L1630.7 518.4 L1632.5 518.4 L1634.2 518.5 L1636.0 518.5 L1637.8 518.6 L1639.5 518.6 L1641.3 518.7 L1643.0 518.7 L1644.8 518.8 L1646.6 518.8 L1648.3 518.9 L1650.1 518.9 L1651.8 519.0 L1653.6 519.0 L1655.4 519.1 L1657.1 519.1 L1658.9 519.2 L1660.6 519.2 L1662.4 519.3 L1664.2 519.3 L1665.9 519.4 L1667.7 519.4 L1669.4 519.5 L1671.2 519.5 L1673.0 519.5 L1674.7 519.6 L1676.5 519.6 L1678.2 519.7 L1680.0 519.7" stroke="#c2c288" stroke-width="3.4" fill="none" stroke-linejoin="round"/>
<path d="M801.6 444.6 L803.4 442.7 L805.1 440.9 L806.9 439.2 L808.6 437.5 L810.4 435.9 L812.2 434.4 L813.9 433.0 L815.7 431.7 L815.8 431.6 L817.4 430.4 L819.2 429.2 L821.0 428.1 L822.7 427.0 L824.5 426.1 L826.2 425.2 L828.0 424.4 L829.8 423.7 L831.4 423.1 L831.5 423.1 L833.3 422.5 L835.0 422.0 L836.8 421.6 L838.6 421.2 L840.3 420.9 L842.1 420.7 L843.8 420.5 L845.6 420.4 L847.4 420.4 L849.1 420.5 L849.4 420.5 L850.9 420.6 L852.6 420.7 L854.4 420.9 L856.2 421.1 L857.9 421.3 L859.7 421.6 L861.5 421.8 L863.2 422.2 L865.0 422.5 L866.7 422.9 L867.5 423.1 L868.5 423.3 L870.3 423.8 L872.0 424.3 L873.8 424.9 L875.5 425.4 L877.3 426.0 L879.1 426.5 L880.8 427.0 L882.6 427.5 L884.3 428.0 L885.6 428.3 L886.1 428.4 L887.9 428.8 L889.6 429.2 L891.4 429.5 L893.1 429.8 L894.9 430.2 L896.7 430.4 L898.4 430.7 L900.2 431.0 L901.1 431.1 L901.9 431.2 L903.7 431.4 L905.5 431.5 L907.2 431.6 L909.0 431.6 L910.7 431.6 L912.5 431.6 L914.1 431.6 L914.3 431.6 L916.0 431.5 L917.8 431.4 L919.5 431.2 L921.3 431.1 L923.1 430.8 L924.8 430.5 L926.6 430.2 L928.3 429.9 L930.1 429.5 L931.9 429.1 L932.2 429.0 L933.6 428.6 L935.4 428.1 L937.1 427.5 L938.9 426.8 L940.7 426.1 L942.4 425.4 L944.2 424.6 L945.9 423.7 L947.7 422.8 L949.5 421.8 L950.3 421.3 L951.2 420.7 L953.0 419.6 L954.7 418.5 L956.5 417.3 L958.3 416.2 L960.0 415.0 L961.8 413.8 L963.5 412.5 L965.3 411.3 L967.1 410.0 L968.8 408.6 L970.6 407.3 L970.9 407.0 L972.4 405.9 L974.1 404.5 L975.9 403.1 L977.6 401.7 L979.4 400.3 L981.2 398.9 L982.9 397.5 L984.7 396.0 L986.4 394.6 L988.2 393.1 L990.0 391.6 L991.6 390.2 L991.7 390.1 L993.5 388.6 L995.2 387.1 L997.0 385.6 L998.8 384.0 L1000.5 382.5 L1002.3 380.9 L1004.0 379.3 L1005.8 377.8 L1007.6 376.2 L1009.3 374.7 L1011.1 373.2 L1012.3 372.1 L1012.8 371.6 L1014.6 370.1 L1016.4 368.7 L1018.1 367.2 L1019.9 365.7 L1021.6 364.3 L1023.4 362.8 L1025.2 361.4 L1026.9 360.0 L1028.7 358.6 L1030.4 357.3 L1032.2 355.9 L1033.0 355.3 L1034.0 354.6 L1035.7 353.3 L1037.5 352.1 L1039.2 350.9 L1041.0 349.8 L1042.8 348.8 L1044.5 347.9 L1046.3 346.9 L1048.0 346.1 L1049.8 345.3 L1051.6 344.5 L1053.3 343.8 L1053.6 343.7 L1055.1 343.1 L1056.8 342.5 L1058.6 341.9 L1060.4 341.4 L1062.1 340.9 L1063.9 340.4 L1065.6 340.0 L1067.4 339.6 L1069.1 339.3 L1069.2 339.2 L1070.9 338.9 L1072.7 338.6 L1074.4 338.3 L1076.2 338.1 L1078.0 337.9 L1079.7 337.8 L1081.5 337.7 L1082.1 337.6 L1083.3 337.6 L1085.0 337.6 L1086.8 337.7 L1088.5 337.9 L1090.3 338.2 L1092.1 338.5 L1093.8 338.9 L1095.0 339.2 L1095.6 339.4 L1097.3 339.9 L1099.1 340.5 L1100.9 341.1 L1102.6 341.9 L1104.4 342.7 L1106.1 343.5 L1107.9 344.5 L1109.7 345.6 L1110.5 346.1 L1111.4 346.7 L1113.2 347.9 L1114.9 349.1 L1116.7 350.4 L1118.5 351.7 L1120.2 353.1 L1122.0 354.4 L1123.7 355.9 L1125.5 357.4 L1126.0 357.8 L1127.3 358.9 L1129.0 360.4 L1130.8 361.9 L1132.5 363.5 L1134.3 365.1 L1136.1 366.7 L1137.8 368.3 L1139.6 370.0 L1141.3 371.8 L1141.5 372.0 L1143.1 373.6 L1144.9 375.5 L1146.6 377.4 L1148.4 379.4 L1150.1 381.4 L1151.9 383.3 L1153.7 385.2 L1155.4 387.1 L1157.0 388.7 L1157.2 388.9 L1158.9 390.7 L1160.7 392.5 L1162.5 394.3 L1164.2 396.1 L1166.0 397.8 L1167.7 399.6 L1169.5 401.3 L1171.3 403.1 L1173.0 404.8 L1174.8 406.6 L1176.5 408.3 L1177.7 409.4 L1178.3 410.0 L1180.1 411.7 L1181.8 413.4 L1183.6 415.1 L1185.3 416.8 L1187.1 418.4 L1188.9 420.1 L1190.6 421.7 L1192.4 423.3 L1194.2 424.9 L1195.9 426.5 L1197.7 428.0 L1198.4 428.7 L1199.4 429.6 L1201.2 431.0 L1203.0 432.5 L1204.7 433.9 L1206.5 435.2 L1208.2 436.6 L1210.0 437.9 L1211.8 439.1 L1213.5 440.4 L1215.3 441.6 L1217.0 442.9 L1218.8 444.1 L1219.0 444.2 L1220.6 445.3 L1222.3 446.5 L1224.1 447.7 L1225.8 448.9 L1227.6 450.1 L1229.4 451.2 L1231.1 452.3 L1232.9 453.4 L1234.6 454.5 L1236.4 455.5 L1238.2 456.6 L1239.9 457.6 L1240.0 457.6 L1241.7 458.5 L1243.4 459.5 L1245.2 460.5 L1247.0 461.4 L1248.7 462.3 L1250.5 463.2 L1252.2 464.1 L1254.0 465.0 L1255.8 465.8 L1257.5 466.7 L1259.3 467.5 L1261.0 468.3 L1262.8 469.1 L1264.6 469.9 L1266.3 470.7 L1268.1 471.4 L1269.8 472.2 L1271.6 472.9 L1273.4 473.6 L1275.1 474.3 L1276.9 474.9 L1278.6 475.6 L1280.4 476.2 L1282.2 476.8 L1283.9 477.4 L1285.7 478.0 L1286.2 478.1 L1287.4 478.5 L1289.2 479.1 L1291.0 479.6 L1292.7 480.2 L1294.5 480.7 L1296.3 481.2 L1298.0 481.7 L1299.8 482.2 L1301.5 482.8 L1303.3 483.2 L1305.1 483.7 L1306.8 484.2 L1308.6 484.7 L1310.3 485.2 L1312.1 485.6 L1313.9 486.0 L1315.6 486.5 L1317.4 486.9 L1319.1 487.3 L1320.9 487.7 L1322.7 488.1 L1324.4 488.5 L1326.2 488.9 L1327.9 489.3 L1329.2 489.5 L1329.7 489.6 L1331.5 490.0 L1333.2 490.3 L1335.0 490.7 L1336.7 491.0 L1338.5 491.3 L1340.3 491.7 L1342.0 492.0 L1343.8 492.4 L1345.5 492.7 L1347.3 493.0 L1349.1 493.4 L1350.8 493.7 L1352.6 494.0 L1354.3 494.3 L1356.1 494.7 L1357.9 495.0 L1359.6 495.3 L1361.4 495.6 L1363.1 495.9 L1364.9 496.2 L1366.7 496.5 L1368.4 496.7 L1370.2 497.0 L1371.9 497.3 L1372.3 497.4 L1373.7 497.6 L1375.5 497.8 L1377.2 498.1 L1379.0 498.4 L1380.7 498.6 L1382.5 498.9 L1384.3 499.1 L1386.0 499.4 L1387.8 499.7 L1389.5 499.9 L1391.3 500.2 L1393.1 500.4 L1394.8 500.7 L1396.6 500.9 L1398.3 501.2 L1400.1 501.4 L1401.9 501.7 L1403.6 501.9 L1405.4 502.1 L1407.2 502.4 L1408.9 502.6 L1410.7 502.8 L1412.4 503.1 L1414.2 503.3 L1416.0 503.5 L1417.7 503.7 L1419.5 504.0 L1421.2 504.2 L1423.0 504.4 L1424.8 504.6 L1426.5 504.8 L1428.3 505.0 L1429.8 505.2 L1430.0 505.2 L1431.8 505.4 L1433.6 505.6 L1435.3 505.8 L1437.1 506.0 L1438.8 506.2 L1440.6 506.3 L1442.4 506.5 L1444.1 506.7 L1445.9 506.9 L1447.6 507.1 L1449.4 507.2 L1451.2 507.4 L1452.9 507.6 L1454.7 507.8 L1456.4 507.9 L1458.2 508.1 L1460.0 508.3 L1461.7 508.4 L1463.5 508.6 L1465.2 508.8 L1467.0 508.9 L1468.8 509.1 L1470.5 509.2 L1472.3 509.4 L1474.0 509.5 L1475.8 509.7 L1477.6 509.8 L1479.3 510.0 L1481.1 510.1 L1482.8 510.3 L1484.6 510.4 L1486.4 510.6 L1487.2 510.6 L1488.1 510.7 L1489.9 510.8 L1491.6 511.0 L1493.4 511.1 L1495.2 511.2 L1496.9 511.4 L1498.7 511.5 L1500.4 511.6 L1502.2 511.8 L1504.0 511.9 L1505.7 512.1 L1507.5 512.2 L1509.2 512.4 L1511.0 512.5 L1512.8 512.6 L1514.5 512.8 L1516.3 512.9 L1518.1 513.0 L1519.8 513.2 L1521.6 513.3 L1523.3 513.4 L1525.1 513.6 L1526.9 513.7 L1528.6 513.8 L1530.4 513.9 L1532.1 514.0 L1533.9 514.2 L1535.7 514.3 L1537.4 514.4 L1539.2 514.5 L1540.9 514.6 L1542.7 514.7 L1544.5 514.8 L1544.6 514.8 L1546.2 514.9 L1548.0 515.0 L1549.7 515.1 L1551.5 515.2 L1553.3 515.3 L1555.0 515.4 L1556.8 515.4 L1558.5 515.5 L1560.3 515.6 L1562.1 515.7 L1563.8 515.8 L1565.6 515.9 L1567.3 516.0 L1569.1 516.1 L1570.9 516.1 L1572.6 516.2 L1574.4 516.3 L1576.1 516.4 L1577.9 516.4 L1579.7 516.5 L1581.4 516.6 L1583.2 516.7 L1584.9 516.7 L1586.7 516.8 L1588.5 516.9 L1590.2 517.0 L1592.0 517.0 L1593.7 517.1 L1595.5 517.2 L1597.3 517.2 L1599.0 517.3 L1600.8 517.4 L1602.1 517.4 L1602.5 517.4 L1604.3 517.5 L1606.1 517.5 L1607.8 517.6 L1609.6 517.7 L1611.3 517.7 L1613.1 517.8 L1614.9 517.8 L1616.6 517.9 L1618.4 518.0 L1620.1 518.0 L1621.9 518.1 L1623.7 518.1 L1625.4 518.2 L1627.2 518.2 L1629.0 518.3 L1630.7 518.4 L1632.5 518.4 L1634.2 518.5 L1636.0 518.5 L1637.8 518.6 L1639.5 518.6 L1641.3 518.7 L1643.0 518.7 L1644.8 518.8 L1646.6 518.8 L1648.3 518.9 L1650.1 518.9 L1651.8 519.0 L1653.6 519.0 L1655.4 519.1 L1657.1 519.1 L1658.9 519.2 L1660.6 519.2 L1662.4 519.3 L1664.2 519.3 L1665.9 519.4 L1667.7 519.4 L1669.4 519.5 L1671.2 519.5 L1673.0 519.5 L1674.7 519.6 L1676.5 519.6 L1678.2 519.7 L1680.0 519.7" stroke="#97973f" stroke-width="3.4" fill="none" stroke-linejoin="round" stroke-dasharray="2.3 2.0"/>
<path d="M800.0 164.3 H1681.0" stroke="#000" stroke-width="2.6" fill="none"/>
<path d="M801.7 163.0 V536.1999999999999" stroke="#000" stroke-width="4.8" fill="none"/>
<path d="M800.0 534.8 H1684.0" stroke="#000" stroke-width="2.8" fill="none"/>
<path d="M1681.8 163.0 V536.1999999999999" stroke="#000" stroke-width="6.4" fill="none"/>
<text x="789.4" y="46.3" font-size="42" class="b" textLength="238.0" lengthAdjust="spacingAndGlyphs">Energy [eV]</text>
<text x="737.6" y="1205.8" font-size="46.5" class="b" textLength="376.5" lengthAdjust="spacingAndGlyphs">Wavelenght [nm]</text>
<text transform="translate(59.2 868) rotate(-90)" font-size="45" class="b" textLength="510.5" lengthAdjust="spacingAndGlyphs">Extinction coefficient (k)</text>
<text x="131.4" y="111.0" font-size="44" class="b" textLength="58.4" lengthAdjust="spacingAndGlyphs">6.2</text>
<text x="321.3" y="111.0" font-size="44" class="b" textLength="58.4" lengthAdjust="spacingAndGlyphs">4.1</text>
<text x="511.3" y="111.0" font-size="44" class="b" textLength="58.4" lengthAdjust="spacingAndGlyphs">3.1</text>
<text x="701.2" y="111.0" font-size="44" class="b" textLength="58.4" lengthAdjust="spacingAndGlyphs">2.5</text>
<text x="891.2" y="111.0" font-size="44" class="b" textLength="58.4" lengthAdjust="spacingAndGlyphs">2.1</text>
<text x="1082.0" y="111.0" font-size="44" class="b" textLength="58.4" lengthAdjust="spacingAndGlyphs">1.8</text>
<text x="1271.9" y="111.0" font-size="44" class="b" textLength="58.4" lengthAdjust="spacingAndGlyphs">1.6</text>
<text x="1461.9" y="111.0" font-size="44" class="b" textLength="58.4" lengthAdjust="spacingAndGlyphs">1.4</text>
<text x="1651.8" y="111.0" font-size="44" class="b" textLength="58.4" lengthAdjust="spacingAndGlyphs">1.2</text>
<text x="118.9" y="1149.5" font-size="43.5" class="b" textLength="70.2" lengthAdjust="spacingAndGlyphs">200</text>
<text x="308.8" y="1149.5" font-size="43.5" class="b" textLength="70.2" lengthAdjust="spacingAndGlyphs">300</text>
<text x="498.8" y="1149.5" font-size="43.5" class="b" textLength="70.2" lengthAdjust="spacingAndGlyphs">400</text>
<text x="688.8" y="1149.5" font-size="43.5" class="b" textLength="70.2" lengthAdjust="spacingAndGlyphs">500</text>
<text x="878.7" y="1149.5" font-size="43.5" class="b" textLength="70.2" lengthAdjust="spacingAndGlyphs">600</text>
<text x="1068.7" y="1149.5" font-size="43.5" class="b" textLength="70.2" lengthAdjust="spacingAndGlyphs">700</text>
<text x="1258.6" y="1149.5" font-size="43.5" class="b" textLength="70.2" lengthAdjust="spacingAndGlyphs">800</text>
<text x="1448.6" y="1149.5" font-size="43.5" class="b" textLength="70.2" lengthAdjust="spacingAndGlyphs">900</text>
<text x="1626.7" y="1149.5" font-size="43.5" class="b" textLength="93.8" lengthAdjust="spacingAndGlyphs">1000</text>
<text x="107.9" y="1105.9" font-size="47" class="b" textLength="25.5" lengthAdjust="spacingAndGlyphs">0</text>
<text x="107.9" y="866.2" font-size="47" class="b" textLength="25.5" lengthAdjust="spacingAndGlyphs">1</text>
<text x="107.9" y="626.4" font-size="47" class="b" textLength="25.5" lengthAdjust="spacingAndGlyphs">2</text>
<text x="107.9" y="386.7" font-size="47" class="b" textLength="25.5" lengthAdjust="spacingAndGlyphs">3</text>
<text x="107.9" y="147.0" font-size="47" class="b" textLength="25.5" lengthAdjust="spacingAndGlyphs">4</text>
<text x="174.3" y="191.6" font-size="45" class="b" textLength="523.0" lengthAdjust="spacingAndGlyphs">Tauc - Lorenz anisotropic</text>
<text x="172.6" y="245.2" font-size="44" class="b" textLength="106" lengthAdjust="spacingAndGlyphs">WTe<tspan font-size="21.5" dy="18.2">2</tspan></text>
<path d="M1476.5 853.4 H1584.7" stroke="#000" stroke-width="11.4" stroke-linecap="round" fill="none"/>
<path d="M1476.5 912.5 H1584.7" stroke="#f00" stroke-width="11.4" stroke-linecap="round" fill="none"/>
<path d="M1476.5 971.6 H1584.7" stroke="#00f" stroke-width="11.4" stroke-linecap="round" fill="none"/>
<text x="1597.4" y="869.6" font-size="49" textLength="66.4" lengthAdjust="spacingAndGlyphs">II a</text>
<text x="1597.4" y="928.3" font-size="49" textLength="66.4" lengthAdjust="spacingAndGlyphs">II b</text>
<text x="1597.4" y="987.0" font-size="49" textLength="66.4" lengthAdjust="spacingAndGlyphs">II c</text>
<text x="766.0" y="544.1" font-size="28" class="b" textLength="15.4" lengthAdjust="spacingAndGlyphs">0</text>
<text x="766.0" y="470.0" font-size="28" class="b" textLength="15.4" lengthAdjust="spacingAndGlyphs">1</text>
<text x="766.0" y="395.9" font-size="28" class="b" textLength="15.4" lengthAdjust="spacingAndGlyphs">2</text>
<text x="766.0" y="321.8" font-size="28" class="b" textLength="15.4" lengthAdjust="spacingAndGlyphs">3</text>
<text x="766.0" y="247.7" font-size="28" class="b" textLength="15.4" lengthAdjust="spacingAndGlyphs">4</text>
<text x="766.0" y="173.6" font-size="28" class="b" textLength="15.4" lengthAdjust="spacingAndGlyphs">5</text>
<text x="777.9" y="573.0" font-size="26.5" class="b" textLength="46.4" lengthAdjust="spacingAndGlyphs">200</text>
<text x="887.8" y="573.0" font-size="26.5" class="b" textLength="46.4" lengthAdjust="spacingAndGlyphs">300</text>
<text x="997.6" y="573.0" font-size="26.5" class="b" textLength="46.4" lengthAdjust="spacingAndGlyphs">400</text>
<text x="1107.5" y="573.0" font-size="26.5" class="b" textLength="46.4" lengthAdjust="spacingAndGlyphs">500</text>
<text x="1217.4" y="573.0" font-size="26.5" class="b" textLength="46.4" lengthAdjust="spacingAndGlyphs">600</text>
<text x="1327.3" y="573.0" font-size="26.5" class="b" textLength="46.4" lengthAdjust="spacingAndGlyphs">700</text>
<text x="1437.1" y="573.0" font-size="26.5" class="b" textLength="46.4" lengthAdjust="spacingAndGlyphs">800</text>
<text x="1547.0" y="573.0" font-size="26.5" class="b" textLength="46.4" lengthAdjust="spacingAndGlyphs">900</text>
<text x="1649.8" y="573.0" font-size="26.5" class="b" textLength="60.5" lengthAdjust="spacingAndGlyphs">1000</text>
<text transform="translate(749.0 518.2) rotate(-90)" font-size="31" class="b" textLength="359" lengthAdjust="spacingAndGlyphs">Extinction coefficient (k)</text>
<text x="1121.2" y="616.1" font-size="29" class="b" textLength="246.5" lengthAdjust="spacingAndGlyphs">Wavelength [nm]</text>
<text x="985.8" y="202.5" font-size="27.5" class="b" textLength="453.0" lengthAdjust="spacingAndGlyphs">Tauc-Lorenz anisotropic model</text>
<text x="1453.6" y="212.6" font-size="28.5" class="b" textLength="43.6" lengthAdjust="spacingAndGlyphs">II b</text>
<text x="1453.0" y="246.0" font-size="24" textLength="191.5" lengthAdjust="spacingAndGlyphs">Incidence angle</text>
<path d="M1451.6 276.2 H1505.2" stroke="#ff0a0a" stroke-width="4.2" fill="none"/>
<path d="M1451.6 316.3 H1505.2" stroke="#ff8200" stroke-width="5.0" fill="none"/>
<path d="M1451.6 355.6 H1505.2" stroke="#aaaa62" stroke-width="4.4" fill="none"/>
<text x="1510.2" y="282.8" font-size="28" letter-spacing="1.7">50<tspan font-size="16.5" dy="-11.2" dx="1">o</tspan></text>
<text x="1510.2" y="323.3" font-size="28" letter-spacing="1.7">60<tspan font-size="16.5" dy="-11.2" dx="1">o</tspan></text>
<text x="1510.2" y="363.6" font-size="28" letter-spacing="1.7">70<tspan font-size="16.5" dy="-11.2" dx="1">o</tspan></text>
</svg></body></html>
